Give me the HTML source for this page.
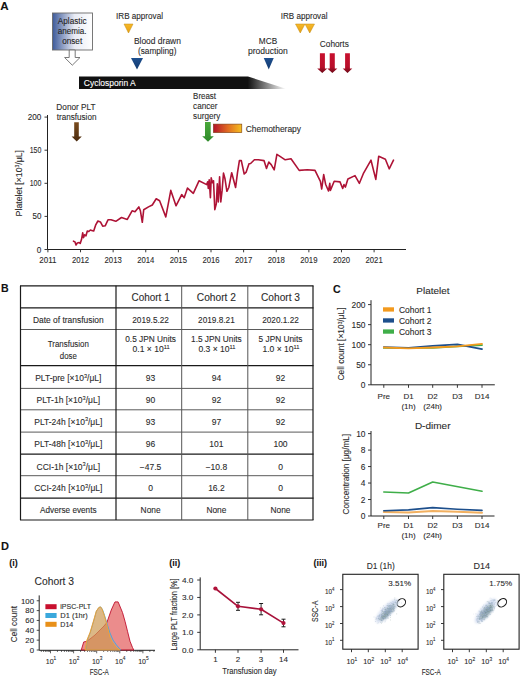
<!DOCTYPE html>
<html><head><meta charset="utf-8"><style>
html,body{margin:0;padding:0;background:#fff;}
svg{display:block;font-family:"Liberation Sans", sans-serif;}
text{stroke:#2b2b2b;stroke-width:0.1px;}
text.w{stroke:#fff;}
</style></head><body>
<svg width="520" height="678" viewBox="0 0 520 678">
<rect width="520" height="678" fill="#fff"/>
<defs>
<filter id="blur1" x="-50%" y="-50%" width="200%" height="200%"><feGaussianBlur stdDeviation="1.2"/></filter>
<linearGradient id="gApl" x1="0" x2="1" y1="0" y2="0">
 <stop offset="0" stop-color="#3d5a9a"/><stop offset="0.55" stop-color="#e8ebf4"/><stop offset="1" stop-color="#ffffff"/></linearGradient>
<linearGradient id="gBar" gradientUnits="userSpaceOnUse" x1="79" x2="286" y1="0" y2="0">
 <stop offset="0" stop-color="#111"/><stop offset="0.815" stop-color="#111"/><stop offset="1" stop-color="#fff"/></linearGradient>
<linearGradient id="gChemo" x1="0" x2="1" y1="0" y2="0">
 <stop offset="0" stop-color="#b3122a"/><stop offset="0.5" stop-color="#e06a22"/><stop offset="1" stop-color="#f5c020"/></linearGradient>
<linearGradient id="gRed" x1="0" x2="0" y1="0" y2="1">
 <stop offset="0" stop-color="#c8102e"/><stop offset="0.7" stop-color="#b80f2a"/><stop offset="1" stop-color="#6a0a18"/></linearGradient>
<linearGradient id="gBrown" x1="0" x2="0" y1="0" y2="1">
 <stop offset="0" stop-color="#7a4c1e"/><stop offset="1" stop-color="#4a2a0e"/></linearGradient>
<linearGradient id="gGreen" x1="0" x2="0" y1="0" y2="1">
 <stop offset="0" stop-color="#4aa83a"/><stop offset="1" stop-color="#2e8a2a"/></linearGradient>
<linearGradient id="gYel" x1="0" x2="0" y1="0" y2="1">
 <stop offset="0" stop-color="#f7b92a"/><stop offset="1" stop-color="#e8a010"/></linearGradient>
<linearGradient id="gBlue" x1="0" x2="0" y1="0" y2="1">
 <stop offset="0" stop-color="#1e4f8e"/><stop offset="1" stop-color="#123a70"/></linearGradient>
</defs>
<text x="0.3" y="9.8" font-size="11.6" text-anchor="start" fill="#111" font-weight="bold">A</text>
<rect x="52.5" y="13" width="40" height="37" fill="url(#gApl)" stroke="#6a6a6a" stroke-width="0.9"/>
<polygon points="69.20,50.00 75.20,50.00 75.20,57.50 80.00,57.50 72.30,65.20 64.60,57.50 69.20,57.50" fill="#fff" stroke="#6a6a6a" stroke-width="0.9"/>
<text x="72.2" y="24.4" font-size="8.3" text-anchor="middle" fill="#222" textLength="28.8" lengthAdjust="spacingAndGlyphs">Aplastic</text>
<text x="72.2" y="34.2" font-size="8.3" text-anchor="middle" fill="#222" textLength="28.8" lengthAdjust="spacingAndGlyphs">anemia.</text>
<text x="72.2" y="44.4" font-size="8.3" text-anchor="middle" fill="#222" textLength="20" lengthAdjust="spacingAndGlyphs">onset</text>
<text x="139.5" y="19" font-size="8.3" text-anchor="middle" fill="#2b2b2b" textLength="47" lengthAdjust="spacingAndGlyphs">IRB approval</text>
<polygon points="124.00,24.00 133.00,24.00 128.50,33.00" fill="url(#gYel)" stroke="#c08a10" stroke-width="0.5"/>
<text x="157.4" y="44.3" font-size="8.3" text-anchor="middle" fill="#2b2b2b" textLength="47" lengthAdjust="spacingAndGlyphs">Blood drawn</text>
<text x="157.2" y="54.1" font-size="8.3" text-anchor="middle" fill="#2b2b2b" textLength="38.5" lengthAdjust="spacingAndGlyphs">(sampling)</text>
<polygon points="131.00,58.00 143.00,58.00 137.00,69.50" fill="url(#gBlue)" stroke="none" stroke-width="0"/>
<polygon points="79.00,76.50 248.00,76.50 286.00,88.70 286.00,89.00 79.00,89.00" fill="url(#gBar)" stroke="none" stroke-width="0"/>
<text x="83.8" y="85.8" font-size="8.4" text-anchor="start" fill="#fff" textLength="51.9" lengthAdjust="spacingAndGlyphs" class="w">Cyclosporin A</text>
<text x="268" y="44.3" font-size="8.3" text-anchor="middle" fill="#2b2b2b" textLength="18.3" lengthAdjust="spacingAndGlyphs">MCB</text>
<text x="267.9" y="54.1" font-size="8.3" text-anchor="middle" fill="#2b2b2b" textLength="40" lengthAdjust="spacingAndGlyphs">production</text>
<polygon points="263.75,58.00 273.75,58.00 268.75,69.50" fill="url(#gBlue)" stroke="none" stroke-width="0"/>
<text x="304.1" y="19" font-size="8.3" text-anchor="middle" fill="#2b2b2b" textLength="46.7" lengthAdjust="spacingAndGlyphs">IRB approval</text>
<polygon points="295.50,24.00 305.00,24.00 300.25,33.00" fill="url(#gYel)" stroke="#c08a10" stroke-width="0.5"/>
<polygon points="305.00,24.00 314.50,24.00 309.75,33.00" fill="url(#gYel)" stroke="#c08a10" stroke-width="0.5"/>
<text x="334.3" y="47.4" font-size="8.6" text-anchor="middle" fill="#2b2b2b" textLength="29" lengthAdjust="spacingAndGlyphs">Cohorts</text>
<polygon points="319.90,53.20 324.90,53.20 324.90,68.60 327.30,68.60 322.25,72.90 317.20,68.60 319.90,68.60" fill="url(#gRed)" stroke="none" stroke-width="0"/>
<polygon points="329.70,53.20 334.80,53.20 334.80,68.60 337.40,68.60 332.35,72.90 327.30,68.60 329.70,68.60" fill="url(#gRed)" stroke="none" stroke-width="0"/>
<polygon points="345.10,53.20 349.90,53.20 349.90,68.60 352.30,68.60 347.50,72.90 342.70,68.60 345.10,68.60" fill="url(#gRed)" stroke="none" stroke-width="0"/>
<text x="76" y="110.2" font-size="8.3" text-anchor="middle" fill="#2b2b2b" textLength="39.3" lengthAdjust="spacingAndGlyphs">Donor PLT</text>
<text x="76.6" y="119.8" font-size="8.3" text-anchor="middle" fill="#2b2b2b" textLength="39.8" lengthAdjust="spacingAndGlyphs">transfusion</text>
<polygon points="74.20,122.30 78.80,122.30 78.80,136.50 81.80,136.50 76.70,141.40 71.60,136.50 74.20,136.50" fill="url(#gBrown)" stroke="none" stroke-width="0"/>
<text x="193.1" y="98.6" font-size="8.3" text-anchor="start" fill="#2b2b2b" textLength="22.9" lengthAdjust="spacingAndGlyphs">Breast</text>
<text x="193.1" y="108.6" font-size="8.3" text-anchor="start" fill="#2b2b2b" textLength="24.5" lengthAdjust="spacingAndGlyphs">cancer</text>
<text x="193.1" y="118.6" font-size="8.3" text-anchor="start" fill="#2b2b2b" textLength="27.1" lengthAdjust="spacingAndGlyphs">surgery</text>
<polygon points="205.00,122.00 210.70,122.00 210.70,136.20 213.80,136.20 208.00,141.70 202.20,136.20 205.00,136.20" fill="url(#gGreen)" stroke="none" stroke-width="0"/>
<rect x="213.4" y="124.1" width="28.4" height="8.5" fill="url(#gChemo)" stroke="#7a3a10" stroke-width="0.6"/>
<text x="245.7" y="131.5" font-size="8.3" text-anchor="start" fill="#2b2b2b" textLength="55.3" lengthAdjust="spacingAndGlyphs">Chemotherapy</text>
<line x1="47.5" y1="115" x2="47.5" y2="249.5" stroke="#222" stroke-width="1"/>
<line x1="47.5" y1="249.5" x2="406" y2="249.5" stroke="#222" stroke-width="1"/>
<line x1="44.5" y1="249.5" x2="47.5" y2="249.5" stroke="#222" stroke-width="0.9"/>
<text x="41.4" y="252.5" font-size="8.2" text-anchor="end" fill="#2b2b2b">0</text>
<line x1="44.5" y1="216.4" x2="47.5" y2="216.4" stroke="#222" stroke-width="0.9"/>
<text x="41.4" y="219.4" font-size="8.2" text-anchor="end" fill="#2b2b2b" textLength="8.9" lengthAdjust="spacingAndGlyphs">50</text>
<line x1="44.5" y1="183.3" x2="47.5" y2="183.3" stroke="#222" stroke-width="0.9"/>
<text x="41.4" y="186.3" font-size="8.2" text-anchor="end" fill="#2b2b2b" textLength="11.7" lengthAdjust="spacingAndGlyphs">100</text>
<line x1="44.5" y1="150.2" x2="47.5" y2="150.2" stroke="#222" stroke-width="0.9"/>
<text x="41.4" y="153.2" font-size="8.2" text-anchor="end" fill="#2b2b2b" textLength="11.7" lengthAdjust="spacingAndGlyphs">150</text>
<line x1="44.5" y1="117.1" x2="47.5" y2="117.1" stroke="#222" stroke-width="0.9"/>
<text x="41.4" y="120.1" font-size="8.2" text-anchor="end" fill="#2b2b2b" textLength="13.6" lengthAdjust="spacingAndGlyphs">200</text>
<line x1="47.9" y1="249.5" x2="47.9" y2="252.3" stroke="#222" stroke-width="0.9"/>
<text x="47.9" y="262.8" font-size="8.2" text-anchor="middle" fill="#2b2b2b" textLength="17.2" lengthAdjust="spacingAndGlyphs">2011</text>
<line x1="80.52" y1="249.5" x2="80.52" y2="252.3" stroke="#222" stroke-width="0.9"/>
<text x="80.52" y="262.8" font-size="8.2" text-anchor="middle" fill="#2b2b2b" textLength="17.2" lengthAdjust="spacingAndGlyphs">2012</text>
<line x1="113.13999999999999" y1="249.5" x2="113.13999999999999" y2="252.3" stroke="#222" stroke-width="0.9"/>
<text x="113.13999999999999" y="262.8" font-size="8.2" text-anchor="middle" fill="#2b2b2b" textLength="17.2" lengthAdjust="spacingAndGlyphs">2013</text>
<line x1="145.76" y1="249.5" x2="145.76" y2="252.3" stroke="#222" stroke-width="0.9"/>
<text x="145.76" y="262.8" font-size="8.2" text-anchor="middle" fill="#2b2b2b" textLength="17.2" lengthAdjust="spacingAndGlyphs">2014</text>
<line x1="178.38" y1="249.5" x2="178.38" y2="252.3" stroke="#222" stroke-width="0.9"/>
<text x="178.38" y="262.8" font-size="8.2" text-anchor="middle" fill="#2b2b2b" textLength="17.2" lengthAdjust="spacingAndGlyphs">2015</text>
<line x1="211.0" y1="249.5" x2="211.0" y2="252.3" stroke="#222" stroke-width="0.9"/>
<text x="211.0" y="262.8" font-size="8.2" text-anchor="middle" fill="#2b2b2b" textLength="17.2" lengthAdjust="spacingAndGlyphs">2016</text>
<line x1="243.61999999999998" y1="249.5" x2="243.61999999999998" y2="252.3" stroke="#222" stroke-width="0.9"/>
<text x="243.61999999999998" y="262.8" font-size="8.2" text-anchor="middle" fill="#2b2b2b" textLength="17.2" lengthAdjust="spacingAndGlyphs">2017</text>
<line x1="276.23999999999995" y1="249.5" x2="276.23999999999995" y2="252.3" stroke="#222" stroke-width="0.9"/>
<text x="276.23999999999995" y="262.8" font-size="8.2" text-anchor="middle" fill="#2b2b2b" textLength="17.2" lengthAdjust="spacingAndGlyphs">2018</text>
<line x1="308.85999999999996" y1="249.5" x2="308.85999999999996" y2="252.3" stroke="#222" stroke-width="0.9"/>
<text x="308.85999999999996" y="262.8" font-size="8.2" text-anchor="middle" fill="#2b2b2b" textLength="17.2" lengthAdjust="spacingAndGlyphs">2019</text>
<line x1="341.47999999999996" y1="249.5" x2="341.47999999999996" y2="252.3" stroke="#222" stroke-width="0.9"/>
<text x="341.47999999999996" y="262.8" font-size="8.2" text-anchor="middle" fill="#2b2b2b" textLength="17.2" lengthAdjust="spacingAndGlyphs">2020</text>
<line x1="374.09999999999997" y1="249.5" x2="374.09999999999997" y2="252.3" stroke="#222" stroke-width="0.9"/>
<text x="374.09999999999997" y="262.8" font-size="8.2" text-anchor="middle" fill="#2b2b2b" textLength="17.2" lengthAdjust="spacingAndGlyphs">2021</text>
<text transform="translate(21.6,183.2) rotate(-90)" font-size="9" text-anchor="middle" fill="#2b2b2b" textLength="66.4" lengthAdjust="spacingAndGlyphs">Platelet [×10<tspan dy="-2.8" font-size="5">3</tspan><tspan dy="2.8">/μL]</tspan></text>
<polyline points="73.50,241.20 75.00,241.90 76.00,245.00 77.30,243.00 79.20,242.50 80.20,243.50 81.50,239.60 82.70,232.90 83.50,237.70 84.60,234.80 86.00,235.80 87.30,231.00 88.80,231.50 90.40,230.00 91.70,230.40 93.70,231.00 95.60,225.20 97.90,221.00 100.40,221.90 102.70,226.20 105.20,225.80 108.00,219.80 111.00,219.80 115.80,221.30 121.50,217.50 127.30,219.40 132.10,210.80 135.00,211.70 138.80,206.90 140.40,210.80 142.30,222.30 143.70,209.80 148.50,206.90 152.30,205.00 156.20,198.80 159.60,200.80 165.80,216.90 170.80,190.40 176.00,205.80 181.70,194.60 184.20,197.70 187.50,188.10 193.30,193.30 199.00,180.80 206.70,184.60 207.70,181.70 208.30,188.50 209.20,179.80 210.40,197.70 211.20,177.90 212.50,182.70 213.50,180.80 214.80,209.60 216.30,203.80 217.30,183.70 218.30,201.90 219.60,176.90 220.80,201.90 222.10,190.40 223.50,173.10 225.00,178.80 226.90,191.30 228.80,187.50 231.70,172.70 235.60,187.50 237.50,172.70 239.40,160.60 241.30,160.60 244.20,174.00 246.20,172.10 249.00,163.80 250.60,163.50 254.40,159.80 258.30,159.80 264.00,160.60 266.50,168.50 268.80,162.10 271.20,164.60 274.20,169.80 276.90,154.40 280.40,156.70 285.20,159.80 291.00,158.70 299.20,170.40 307.30,169.80 315.00,170.40 320.40,181.30 321.70,189.00 323.70,174.60 325.60,184.20 328.50,191.00 329.80,183.30 330.40,190.40 334.20,181.30 340.00,181.90 342.70,188.50 344.00,184.60 345.40,187.10 347.90,179.00 355.00,175.60 359.40,183.30 363.30,173.70 371.00,160.20 375.80,179.40 378.70,156.30 385.40,159.20 389.20,168.80 393.50,160.20" fill="none" stroke="#ae1336" stroke-width="1.6" stroke-linejoin="round" stroke-linecap="round"/>
<text x="0.9" y="292.1" font-size="10.6" text-anchor="start" fill="#111" font-weight="bold">B</text>
<line x1="20.0" y1="285.8" x2="313.5" y2="285.8" stroke="#1a1a1a" stroke-width="1.2"/>
<line x1="20.0" y1="307.8" x2="313.5" y2="307.8" stroke="#1a1a1a" stroke-width="1.2"/>
<line x1="20.5" y1="329.5" x2="313" y2="329.5" stroke="#5a5a5a" stroke-width="1"/>
<line x1="20.0" y1="365.7" x2="313.5" y2="365.7" stroke="#1a1a1a" stroke-width="1.2"/>
<line x1="20.5" y1="388.4" x2="313" y2="388.4" stroke="#5a5a5a" stroke-width="1"/>
<line x1="20.5" y1="409.8" x2="313" y2="409.8" stroke="#5a5a5a" stroke-width="1"/>
<line x1="20.5" y1="432.1" x2="313" y2="432.1" stroke="#5a5a5a" stroke-width="1"/>
<line x1="20.0" y1="454.2" x2="313.5" y2="454.2" stroke="#1a1a1a" stroke-width="1.2"/>
<line x1="20.5" y1="475.7" x2="313" y2="475.7" stroke="#5a5a5a" stroke-width="1"/>
<line x1="20.0" y1="498.2" x2="313.5" y2="498.2" stroke="#1a1a1a" stroke-width="1.2"/>
<line x1="20.0" y1="520" x2="313.5" y2="520" stroke="#1a1a1a" stroke-width="1.2"/>
<line x1="20.5" y1="285.8" x2="20.5" y2="520" stroke="#1a1a1a" stroke-width="1.2"/>
<line x1="116" y1="285.8" x2="116" y2="520" stroke="#1a1a1a" stroke-width="1.2"/>
<line x1="181.7" y1="285.8" x2="181.7" y2="520" stroke="#555" stroke-width="1"/>
<line x1="247.8" y1="285.8" x2="247.8" y2="520" stroke="#555" stroke-width="1"/>
<line x1="313" y1="285.8" x2="313" y2="520" stroke="#1a1a1a" stroke-width="1.2"/>
<text x="150.6" y="301" font-size="10" text-anchor="middle" fill="#2b2b2b" textLength="38.2" lengthAdjust="spacingAndGlyphs">Cohort 1</text>
<text x="216.4" y="301" font-size="10" text-anchor="middle" fill="#2b2b2b" textLength="39.1" lengthAdjust="spacingAndGlyphs">Cohort 2</text>
<text x="280.5" y="301" font-size="10" text-anchor="middle" fill="#2b2b2b" textLength="39" lengthAdjust="spacingAndGlyphs">Cohort 3</text>
<text x="68.3" y="322.8" font-size="8.3" text-anchor="middle" fill="#2b2b2b" textLength="70.6" lengthAdjust="spacingAndGlyphs">Date of transfusion</text>
<text x="150.6" y="323" font-size="8.6" text-anchor="middle" fill="#2b2b2b" textLength="36.7" lengthAdjust="spacingAndGlyphs">2019.5.22</text>
<text x="216.4" y="323" font-size="8.6" text-anchor="middle" fill="#2b2b2b" textLength="36.7" lengthAdjust="spacingAndGlyphs">2019.8.21</text>
<text x="280.5" y="323" font-size="8.6" text-anchor="middle" fill="#2b2b2b" textLength="36.7" lengthAdjust="spacingAndGlyphs">2020.1.22</text>
<text x="68.3" y="347" font-size="8.3" text-anchor="middle" fill="#2b2b2b" textLength="41" lengthAdjust="spacingAndGlyphs">Transfusion</text>
<text x="68.3" y="358.6" font-size="8.3" text-anchor="middle" fill="#2b2b2b" textLength="17" lengthAdjust="spacingAndGlyphs">dose</text>
<text x="150.6" y="342.4" font-size="8.3" text-anchor="middle" fill="#2b2b2b">0.5 JPN Units</text>
<text x="151.1" y="351.9" font-size="8.3" text-anchor="middle" fill="#2b2b2b" textLength="37" lengthAdjust="spacingAndGlyphs">0.1 × 10<tspan dy="-3.3" font-size="5.5">11</tspan></text>
<text x="216.4" y="342.4" font-size="8.3" text-anchor="middle" fill="#2b2b2b">1.5 JPN Units</text>
<text x="216.9" y="351.9" font-size="8.3" text-anchor="middle" fill="#2b2b2b" textLength="37" lengthAdjust="spacingAndGlyphs">0.3 × 10<tspan dy="-3.3" font-size="5.5">11</tspan></text>
<text x="280.5" y="342.4" font-size="8.3" text-anchor="middle" fill="#2b2b2b">5 JPN Units</text>
<text x="281.0" y="351.9" font-size="8.3" text-anchor="middle" fill="#2b2b2b" textLength="37" lengthAdjust="spacingAndGlyphs">1.0 × 10<tspan dy="-3.3" font-size="5.5">11</tspan></text>
<text x="68.3" y="380.7" font-size="8.5" text-anchor="middle" fill="#2b2b2b">PLT-pre [×10<tspan dy="-3.2" font-size="5.6">3</tspan><tspan dy="3.2">/μL]</tspan></text>
<text x="150.6" y="380.7" font-size="8.5" text-anchor="middle" fill="#2b2b2b">93</text>
<text x="216.4" y="380.7" font-size="8.5" text-anchor="middle" fill="#2b2b2b">94</text>
<text x="280.5" y="380.7" font-size="8.5" text-anchor="middle" fill="#2b2b2b">92</text>
<text x="68.3" y="403.3" font-size="8.5" text-anchor="middle" fill="#2b2b2b">PLT-1h [×10<tspan dy="-3.2" font-size="5.6">3</tspan><tspan dy="3.2">/μL]</tspan></text>
<text x="150.6" y="403.3" font-size="8.5" text-anchor="middle" fill="#2b2b2b">90</text>
<text x="216.4" y="403.3" font-size="8.5" text-anchor="middle" fill="#2b2b2b">92</text>
<text x="280.5" y="403.3" font-size="8.5" text-anchor="middle" fill="#2b2b2b">92</text>
<text x="68.3" y="424.6" font-size="8.5" text-anchor="middle" fill="#2b2b2b">PLT-24h [×10<tspan dy="-3.2" font-size="5.6">3</tspan><tspan dy="3.2">/μL]</tspan></text>
<text x="150.6" y="424.6" font-size="8.5" text-anchor="middle" fill="#2b2b2b">93</text>
<text x="216.4" y="424.6" font-size="8.5" text-anchor="middle" fill="#2b2b2b">97</text>
<text x="280.5" y="424.6" font-size="8.5" text-anchor="middle" fill="#2b2b2b">92</text>
<text x="68.3" y="446.9" font-size="8.5" text-anchor="middle" fill="#2b2b2b">PLT-48h [×10<tspan dy="-3.2" font-size="5.6">3</tspan><tspan dy="3.2">/μL]</tspan></text>
<text x="150.6" y="446.9" font-size="8.5" text-anchor="middle" fill="#2b2b2b">96</text>
<text x="216.4" y="446.9" font-size="8.5" text-anchor="middle" fill="#2b2b2b">101</text>
<text x="280.5" y="446.9" font-size="8.5" text-anchor="middle" fill="#2b2b2b">100</text>
<text x="68.3" y="469.5" font-size="8.5" text-anchor="middle" fill="#2b2b2b">CCI-1h [×10<tspan dy="-3.2" font-size="5.6">3</tspan><tspan dy="3.2">/μL]</tspan></text>
<text x="150.6" y="469.5" font-size="8.5" text-anchor="middle" fill="#2b2b2b">−47.5</text>
<text x="216.4" y="469.5" font-size="8.5" text-anchor="middle" fill="#2b2b2b">−10.8</text>
<text x="280.5" y="469.5" font-size="8.5" text-anchor="middle" fill="#2b2b2b">0</text>
<text x="68.3" y="491.1" font-size="8.5" text-anchor="middle" fill="#2b2b2b">CCI-24h [×10<tspan dy="-3.2" font-size="5.6">3</tspan><tspan dy="3.2">/μL]</tspan></text>
<text x="150.6" y="491.1" font-size="8.5" text-anchor="middle" fill="#2b2b2b">0</text>
<text x="216.4" y="491.1" font-size="8.5" text-anchor="middle" fill="#2b2b2b">16.2</text>
<text x="280.5" y="491.1" font-size="8.5" text-anchor="middle" fill="#2b2b2b">0</text>
<text x="68.3" y="513.1" font-size="8.2" text-anchor="middle" fill="#2b2b2b" textLength="56.5" lengthAdjust="spacingAndGlyphs">Adverse events</text>
<text x="150.6" y="513.1" font-size="8.4" text-anchor="middle" fill="#2b2b2b" textLength="20" lengthAdjust="spacingAndGlyphs">None</text>
<text x="216.4" y="513.1" font-size="8.4" text-anchor="middle" fill="#2b2b2b" textLength="20" lengthAdjust="spacingAndGlyphs">None</text>
<text x="280.5" y="513.1" font-size="8.4" text-anchor="middle" fill="#2b2b2b" textLength="20" lengthAdjust="spacingAndGlyphs">None</text>
<text x="333" y="292.7" font-size="10.6" text-anchor="start" fill="#111" font-weight="bold">C</text>
<text x="432.9" y="293.8" font-size="9.4" text-anchor="middle" fill="#2b2b2b" textLength="33.1" lengthAdjust="spacingAndGlyphs">Platelet</text>
<line x1="371" y1="300.2" x2="371" y2="384.8" stroke="#222" stroke-width="1"/>
<line x1="371" y1="384.8" x2="494.8" y2="384.8" stroke="#222" stroke-width="1"/>
<line x1="368" y1="384.8" x2="371" y2="384.8" stroke="#222" stroke-width="0.9"/>
<text x="365.5" y="387.8" font-size="8.4" text-anchor="end" fill="#2b2b2b">0</text>
<line x1="368" y1="364.75" x2="371" y2="364.75" stroke="#222" stroke-width="0.9"/>
<text x="365.5" y="367.75" font-size="8.4" text-anchor="end" fill="#2b2b2b">50</text>
<line x1="368" y1="344.7" x2="371" y2="344.7" stroke="#222" stroke-width="0.9"/>
<text x="365.5" y="347.7" font-size="8.4" text-anchor="end" fill="#2b2b2b">100</text>
<line x1="368" y1="324.65" x2="371" y2="324.65" stroke="#222" stroke-width="0.9"/>
<text x="365.5" y="327.65" font-size="8.4" text-anchor="end" fill="#2b2b2b">150</text>
<line x1="368" y1="304.6" x2="371" y2="304.6" stroke="#222" stroke-width="0.9"/>
<text x="365.5" y="307.6" font-size="8.4" text-anchor="end" fill="#2b2b2b">200</text>
<line x1="383.8" y1="384.8" x2="383.8" y2="387.8" stroke="#222" stroke-width="0.9"/>
<line x1="408.5" y1="384.8" x2="408.5" y2="387.8" stroke="#222" stroke-width="0.9"/>
<line x1="432.7" y1="384.8" x2="432.7" y2="387.8" stroke="#222" stroke-width="0.9"/>
<line x1="457.4" y1="384.8" x2="457.4" y2="387.8" stroke="#222" stroke-width="0.9"/>
<line x1="482" y1="384.8" x2="482" y2="387.8" stroke="#222" stroke-width="0.9"/>
<text x="383.8" y="398.9" font-size="8" text-anchor="middle" fill="#2b2b2b">Pre</text>
<text x="408.5" y="398.9" font-size="8" text-anchor="middle" fill="#2b2b2b">D1</text>
<text x="432.7" y="398.9" font-size="8" text-anchor="middle" fill="#2b2b2b">D2</text>
<text x="457.4" y="398.9" font-size="8" text-anchor="middle" fill="#2b2b2b">D3</text>
<text x="482" y="398.9" font-size="8" text-anchor="middle" fill="#2b2b2b">D14</text>
<text x="408.5" y="409.3" font-size="8" text-anchor="middle" fill="#2b2b2b">(1h)</text>
<text x="432.7" y="409.3" font-size="8" text-anchor="middle" fill="#2b2b2b">(24h)</text>
<text transform="translate(344.4,344) rotate(-90)" font-size="8.6" text-anchor="middle" fill="#2b2b2b" textLength="73" lengthAdjust="spacingAndGlyphs">Cell count [×10<tspan dy="-2.8" font-size="5">3</tspan><tspan dy="2.8">/μL]</tspan></text>
<polyline points="383.80,347.91 408.50,347.91 432.70,347.91 457.40,346.30 482.00,345.10" fill="none" stroke="#3fae49" stroke-width="1.8" stroke-linejoin="round" stroke-linecap="round"/>
<polyline points="383.80,347.11 408.50,347.91 432.70,345.90 457.40,344.30 482.00,349.11" fill="none" stroke="#1d4f8c" stroke-width="1.8" stroke-linejoin="round" stroke-linecap="round"/>
<polyline points="383.80,347.51 408.50,348.31 432.70,347.51 457.40,346.30 482.00,343.90" fill="none" stroke="#f39a1e" stroke-width="1.8" stroke-linejoin="round" stroke-linecap="round"/>
<rect x="383" y="307.3" width="11" height="4.3" fill="#f39a1e"/>
<text x="399" y="312.6" font-size="8.5" text-anchor="start" fill="#2b2b2b" textLength="32.4" lengthAdjust="spacingAndGlyphs">Cohort 1</text>
<rect x="383" y="318.3" width="11" height="4.3" fill="#1d4f8c"/>
<text x="399" y="323.6" font-size="8.5" text-anchor="start" fill="#2b2b2b" textLength="32.4" lengthAdjust="spacingAndGlyphs">Cohort 2</text>
<rect x="383" y="329.4" width="11" height="4.3" fill="#3fae49"/>
<text x="399" y="334.7" font-size="8.5" text-anchor="start" fill="#2b2b2b" textLength="32.4" lengthAdjust="spacingAndGlyphs">Cohort 3</text>
<text x="432.7" y="428.5" font-size="9.6" text-anchor="middle" fill="#2b2b2b" textLength="35.6" lengthAdjust="spacingAndGlyphs">D-dimer</text>
<line x1="371" y1="431" x2="371" y2="516" stroke="#222" stroke-width="1"/>
<line x1="371" y1="516" x2="494.5" y2="516" stroke="#222" stroke-width="1"/>
<line x1="368" y1="516.0" x2="371" y2="516.0" stroke="#222" stroke-width="0.9"/>
<text x="365.5" y="519.0" font-size="8.4" text-anchor="end" fill="#2b2b2b">0</text>
<line x1="368" y1="499.52" x2="371" y2="499.52" stroke="#222" stroke-width="0.9"/>
<text x="365.5" y="502.52" font-size="8.4" text-anchor="end" fill="#2b2b2b">2</text>
<line x1="368" y1="483.04" x2="371" y2="483.04" stroke="#222" stroke-width="0.9"/>
<text x="365.5" y="486.04" font-size="8.4" text-anchor="end" fill="#2b2b2b">4</text>
<line x1="368" y1="466.56" x2="371" y2="466.56" stroke="#222" stroke-width="0.9"/>
<text x="365.5" y="469.56" font-size="8.4" text-anchor="end" fill="#2b2b2b">6</text>
<line x1="368" y1="450.08" x2="371" y2="450.08" stroke="#222" stroke-width="0.9"/>
<text x="365.5" y="453.08" font-size="8.4" text-anchor="end" fill="#2b2b2b">8</text>
<line x1="368" y1="433.6" x2="371" y2="433.6" stroke="#222" stroke-width="0.9"/>
<text x="365.5" y="436.6" font-size="8.4" text-anchor="end" fill="#2b2b2b">10</text>
<line x1="383.8" y1="516" x2="383.8" y2="519" stroke="#222" stroke-width="0.9"/>
<line x1="408.5" y1="516" x2="408.5" y2="519" stroke="#222" stroke-width="0.9"/>
<line x1="432.7" y1="516" x2="432.7" y2="519" stroke="#222" stroke-width="0.9"/>
<line x1="457.4" y1="516" x2="457.4" y2="519" stroke="#222" stroke-width="0.9"/>
<line x1="482" y1="516" x2="482" y2="519" stroke="#222" stroke-width="0.9"/>
<text x="383.8" y="528.2" font-size="8" text-anchor="middle" fill="#2b2b2b">Pre</text>
<text x="408.5" y="528.2" font-size="8" text-anchor="middle" fill="#2b2b2b">D1</text>
<text x="432.7" y="528.2" font-size="8" text-anchor="middle" fill="#2b2b2b">D2</text>
<text x="457.4" y="528.2" font-size="8" text-anchor="middle" fill="#2b2b2b">D3</text>
<text x="482" y="528.2" font-size="8" text-anchor="middle" fill="#2b2b2b">D14</text>
<text x="408.5" y="538.3" font-size="8" text-anchor="middle" fill="#2b2b2b">(1h)</text>
<text x="432.7" y="538.3" font-size="8" text-anchor="middle" fill="#2b2b2b">(24h)</text>
<text transform="translate(349.4,474.2) rotate(-90)" font-size="8.4" text-anchor="middle" fill="#2b2b2b" textLength="80.4" lengthAdjust="spacingAndGlyphs">Concentration [μg/mL]</text>
<polyline points="383.80,492.00 408.50,493.00 432.70,482.00 482.00,491.30" fill="none" stroke="#3fae49" stroke-width="1.6" stroke-linejoin="round" stroke-linecap="round"/>
<polyline points="383.80,512.00 408.50,512.60 432.70,511.10 457.40,511.80 482.00,512.70" fill="none" stroke="#f2b060" stroke-width="2.0" stroke-linejoin="round" stroke-linecap="round"/>
<polyline points="383.80,510.80 408.50,509.90 432.70,507.60 457.40,509.20 482.00,510.40" fill="none" stroke="#1d4f8c" stroke-width="1.6" stroke-linejoin="round" stroke-linecap="round"/>
<text x="0.9" y="549.7" font-size="11" text-anchor="start" fill="#111" font-weight="bold">D</text>
<text x="9.3" y="566" font-size="9" text-anchor="start" fill="#111" font-weight="bold">(i)</text>
<text x="34.6" y="584.7" font-size="10" text-anchor="start" fill="#2b2b2b" textLength="39.4" lengthAdjust="spacingAndGlyphs">Cohort 3</text>
<line x1="39.2" y1="595.4" x2="39.2" y2="650.3" stroke="#222" stroke-width="1"/>
<line x1="39.2" y1="650.3" x2="155" y2="650.3" stroke="#222" stroke-width="1"/>
<line x1="36.7" y1="650.0" x2="39.2" y2="650.0" stroke="#222" stroke-width="0.8"/>
<text x="34" y="652.8" font-size="7.8" text-anchor="end" fill="#2b2b2b">0</text>
<line x1="36.7" y1="640.15" x2="39.2" y2="640.15" stroke="#222" stroke-width="0.8"/>
<text x="34" y="642.9499999999999" font-size="7.8" text-anchor="end" fill="#2b2b2b">20</text>
<line x1="36.7" y1="630.3" x2="39.2" y2="630.3" stroke="#222" stroke-width="0.8"/>
<text x="34" y="633.0999999999999" font-size="7.8" text-anchor="end" fill="#2b2b2b">40</text>
<line x1="36.7" y1="620.45" x2="39.2" y2="620.45" stroke="#222" stroke-width="0.8"/>
<text x="34" y="623.25" font-size="7.8" text-anchor="end" fill="#2b2b2b">60</text>
<line x1="36.7" y1="610.6" x2="39.2" y2="610.6" stroke="#222" stroke-width="0.8"/>
<text x="34" y="613.4" font-size="7.8" text-anchor="end" fill="#2b2b2b">80</text>
<line x1="36.7" y1="600.75" x2="39.2" y2="600.75" stroke="#222" stroke-width="0.8"/>
<text x="34" y="603.55" font-size="7.8" text-anchor="end" fill="#2b2b2b">100</text>
<line x1="41.307585799675934" y1="650.3" x2="41.307585799675934" y2="651.9" stroke="#222" stroke-width="0.7"/>
<line x1="43.546207100162036" y1="650.3" x2="43.546207100162036" y2="651.9" stroke="#222" stroke-width="0.7"/>
<line x1="45.37529388386217" y1="650.3" x2="45.37529388386217" y2="651.9" stroke="#222" stroke-width="0.7"/>
<line x1="46.921764724329336" y1="650.3" x2="46.921764724329336" y2="651.9" stroke="#222" stroke-width="0.7"/>
<line x1="48.2613786995139" y1="650.3" x2="48.2613786995139" y2="651.9" stroke="#222" stroke-width="0.7"/>
<line x1="49.44300196804841" y1="650.3" x2="49.44300196804841" y2="651.9" stroke="#222" stroke-width="0.7"/>
<line x1="50.5" y1="650.3" x2="50.5" y2="653.3" stroke="#222" stroke-width="0.7"/>
<line x1="57.453792899837964" y1="650.3" x2="57.453792899837964" y2="651.9" stroke="#222" stroke-width="0.7"/>
<line x1="61.5215009840242" y1="650.3" x2="61.5215009840242" y2="651.9" stroke="#222" stroke-width="0.7"/>
<line x1="64.40758579967593" y1="650.3" x2="64.40758579967593" y2="651.9" stroke="#222" stroke-width="0.7"/>
<line x1="66.64620710016203" y1="650.3" x2="66.64620710016203" y2="651.9" stroke="#222" stroke-width="0.7"/>
<line x1="68.47529388386218" y1="650.3" x2="68.47529388386218" y2="651.9" stroke="#222" stroke-width="0.7"/>
<line x1="70.02176472432933" y1="650.3" x2="70.02176472432933" y2="651.9" stroke="#222" stroke-width="0.7"/>
<line x1="71.36137869951389" y1="650.3" x2="71.36137869951389" y2="651.9" stroke="#222" stroke-width="0.7"/>
<line x1="72.5430019680484" y1="650.3" x2="72.5430019680484" y2="651.9" stroke="#222" stroke-width="0.7"/>
<line x1="73.6" y1="650.3" x2="73.6" y2="653.3" stroke="#222" stroke-width="0.7"/>
<line x1="80.55379289983796" y1="650.3" x2="80.55379289983796" y2="651.9" stroke="#222" stroke-width="0.7"/>
<line x1="84.62150098402421" y1="650.3" x2="84.62150098402421" y2="651.9" stroke="#222" stroke-width="0.7"/>
<line x1="87.50758579967594" y1="650.3" x2="87.50758579967594" y2="651.9" stroke="#222" stroke-width="0.7"/>
<line x1="89.74620710016204" y1="650.3" x2="89.74620710016204" y2="651.9" stroke="#222" stroke-width="0.7"/>
<line x1="91.57529388386217" y1="650.3" x2="91.57529388386217" y2="651.9" stroke="#222" stroke-width="0.7"/>
<line x1="93.12176472432932" y1="650.3" x2="93.12176472432932" y2="651.9" stroke="#222" stroke-width="0.7"/>
<line x1="94.46137869951392" y1="650.3" x2="94.46137869951392" y2="651.9" stroke="#222" stroke-width="0.7"/>
<line x1="95.6430019680484" y1="650.3" x2="95.6430019680484" y2="651.9" stroke="#222" stroke-width="0.7"/>
<line x1="96.70000000000002" y1="650.3" x2="96.70000000000002" y2="653.3" stroke="#222" stroke-width="0.7"/>
<line x1="103.65379289983798" y1="650.3" x2="103.65379289983798" y2="651.9" stroke="#222" stroke-width="0.7"/>
<line x1="107.7215009840242" y1="650.3" x2="107.7215009840242" y2="651.9" stroke="#222" stroke-width="0.7"/>
<line x1="110.60758579967595" y1="650.3" x2="110.60758579967595" y2="651.9" stroke="#222" stroke-width="0.7"/>
<line x1="112.84620710016205" y1="650.3" x2="112.84620710016205" y2="651.9" stroke="#222" stroke-width="0.7"/>
<line x1="114.67529388386217" y1="650.3" x2="114.67529388386217" y2="651.9" stroke="#222" stroke-width="0.7"/>
<line x1="116.22176472432935" y1="650.3" x2="116.22176472432935" y2="651.9" stroke="#222" stroke-width="0.7"/>
<line x1="117.56137869951391" y1="650.3" x2="117.56137869951391" y2="651.9" stroke="#222" stroke-width="0.7"/>
<line x1="118.74300196804842" y1="650.3" x2="118.74300196804842" y2="651.9" stroke="#222" stroke-width="0.7"/>
<line x1="119.80000000000001" y1="650.3" x2="119.80000000000001" y2="653.3" stroke="#222" stroke-width="0.7"/>
<line x1="126.75379289983798" y1="650.3" x2="126.75379289983798" y2="651.9" stroke="#222" stroke-width="0.7"/>
<line x1="130.8215009840242" y1="650.3" x2="130.8215009840242" y2="651.9" stroke="#222" stroke-width="0.7"/>
<line x1="133.70758579967594" y1="650.3" x2="133.70758579967594" y2="651.9" stroke="#222" stroke-width="0.7"/>
<line x1="135.94620710016204" y1="650.3" x2="135.94620710016204" y2="651.9" stroke="#222" stroke-width="0.7"/>
<line x1="137.7752938838622" y1="650.3" x2="137.7752938838622" y2="651.9" stroke="#222" stroke-width="0.7"/>
<line x1="139.32176472432934" y1="650.3" x2="139.32176472432934" y2="651.9" stroke="#222" stroke-width="0.7"/>
<line x1="140.6613786995139" y1="650.3" x2="140.6613786995139" y2="651.9" stroke="#222" stroke-width="0.7"/>
<line x1="141.8430019680484" y1="650.3" x2="141.8430019680484" y2="651.9" stroke="#222" stroke-width="0.7"/>
<line x1="142.9" y1="650.3" x2="142.9" y2="653.3" stroke="#222" stroke-width="0.7"/>
<line x1="149.85379289983797" y1="650.3" x2="149.85379289983797" y2="651.9" stroke="#222" stroke-width="0.7"/>
<line x1="153.92150098402422" y1="650.3" x2="153.92150098402422" y2="651.9" stroke="#222" stroke-width="0.7"/>
<text x="51.0" y="663.8" font-size="7.6" text-anchor="middle" fill="#2b2b2b" textLength="10.5" lengthAdjust="spacingAndGlyphs">10<tspan dy="-3.4" font-size="5.2">1</tspan></text>
<text x="74.1" y="663.8" font-size="7.6" text-anchor="middle" fill="#2b2b2b" textLength="10.5" lengthAdjust="spacingAndGlyphs">10<tspan dy="-3.4" font-size="5.2">2</tspan></text>
<text x="97.20000000000002" y="663.8" font-size="7.6" text-anchor="middle" fill="#2b2b2b" textLength="10.5" lengthAdjust="spacingAndGlyphs">10<tspan dy="-3.4" font-size="5.2">3</tspan></text>
<text x="120.30000000000001" y="663.8" font-size="7.6" text-anchor="middle" fill="#2b2b2b" textLength="10.5" lengthAdjust="spacingAndGlyphs">10<tspan dy="-3.4" font-size="5.2">4</tspan></text>
<text x="143.4" y="663.8" font-size="7.6" text-anchor="middle" fill="#2b2b2b" textLength="10.5" lengthAdjust="spacingAndGlyphs">10<tspan dy="-3.4" font-size="5.2">5</tspan></text>
<text x="99.3" y="674.6" font-size="9.2" text-anchor="middle" fill="#2b2b2b" textLength="19.2" lengthAdjust="spacingAndGlyphs">FSC-A</text>
<text transform="translate(16.9,624.1) rotate(-90)" font-size="8.4" text-anchor="middle" fill="#2b2b2b" textLength="36.3" lengthAdjust="spacingAndGlyphs">Cell count</text>
<polygon points="81.25,650.00 83.75,641.90 86.25,641.50 90.00,639.00 95.00,635.00 100.00,630.00 104.00,626.00 106.90,622.50 111.25,610.00 114.40,603.10 115.00,601.90 118.10,601.90 119.40,605.00 122.50,612.50 125.00,621.25 127.50,631.25 130.00,641.25 132.50,647.50 133.75,650.00" fill="rgba(222,70,70,0.62)" stroke="#c0102e" stroke-width="0.9"/>
<polygon points="86.00,650.00 87.50,640.00 90.50,632.00 94.00,620.00 96.50,611.00 99.00,607.50 100.60,606.90 102.50,609.50 104.50,615.30 107.50,625.00 110.00,633.00 113.00,640.00 116.50,645.00 120.70,650.00" fill="rgba(80,170,220,0.25)" stroke="#4aa8d8" stroke-width="0.9"/>
<polygon points="85.00,650.00 86.90,640.00 90.00,632.50 93.75,620.00 96.25,611.25 98.75,607.50 100.60,606.90 101.90,608.75 103.75,613.75 105.60,620.00 107.50,627.50 108.75,632.50 110.00,637.50 112.50,642.50 116.25,647.50 120.00,650.00" fill="rgba(226,150,60,0.6)" stroke="#f0a030" stroke-width="0.9"/>
<rect x="45.4" y="604.2" width="11.2" height="5" fill="#c8102e"/>
<text x="60.3" y="609.2" font-size="7" text-anchor="start" fill="#2b2b2b" textLength="30.7" lengthAdjust="spacingAndGlyphs">iPSC-PLT</text>
<rect x="45.4" y="613" width="11.2" height="5" fill="#3aa8dc"/>
<text x="60.3" y="618" font-size="7" text-anchor="start" fill="#2b2b2b" textLength="27.4" lengthAdjust="spacingAndGlyphs">D1 (1hr)</text>
<rect x="45.4" y="621.8" width="11.2" height="5" fill="#e8901a"/>
<text x="60.3" y="626.8" font-size="7" text-anchor="start" fill="#2b2b2b" textLength="13" lengthAdjust="spacingAndGlyphs">D14</text>
<text x="169.3" y="566" font-size="9" text-anchor="start" fill="#111" font-weight="bold">(ii)</text>
<line x1="200.2" y1="577.4" x2="200.2" y2="649.8" stroke="#222" stroke-width="1"/>
<line x1="200.2" y1="649.8" x2="298.5" y2="649.8" stroke="#222" stroke-width="1"/>
<line x1="197.2" y1="649.8" x2="200.2" y2="649.8" stroke="#222" stroke-width="0.9"/>
<text x="193.4" y="652.6999999999999" font-size="8" text-anchor="end" fill="#2b2b2b" textLength="11.4" lengthAdjust="spacingAndGlyphs">0.0</text>
<line x1="197.2" y1="632.3499999999999" x2="200.2" y2="632.3499999999999" stroke="#222" stroke-width="0.9"/>
<text x="193.4" y="635.2499999999999" font-size="8" text-anchor="end" fill="#2b2b2b" textLength="11.4" lengthAdjust="spacingAndGlyphs">1.0</text>
<line x1="197.2" y1="614.9" x2="200.2" y2="614.9" stroke="#222" stroke-width="0.9"/>
<text x="193.4" y="617.8" font-size="8" text-anchor="end" fill="#2b2b2b" textLength="11.4" lengthAdjust="spacingAndGlyphs">2.0</text>
<line x1="197.2" y1="597.4499999999999" x2="200.2" y2="597.4499999999999" stroke="#222" stroke-width="0.9"/>
<text x="193.4" y="600.3499999999999" font-size="8" text-anchor="end" fill="#2b2b2b" textLength="11.4" lengthAdjust="spacingAndGlyphs">3.0</text>
<line x1="197.2" y1="580.0" x2="200.2" y2="580.0" stroke="#222" stroke-width="0.9"/>
<text x="193.4" y="582.9" font-size="8" text-anchor="end" fill="#2b2b2b" textLength="11.4" lengthAdjust="spacingAndGlyphs">4.0</text>
<line x1="215.4" y1="649.8" x2="215.4" y2="652.8" stroke="#222" stroke-width="0.9"/>
<text x="215.4" y="662" font-size="8" text-anchor="middle" fill="#2b2b2b">1</text>
<line x1="238" y1="649.8" x2="238" y2="652.8" stroke="#222" stroke-width="0.9"/>
<text x="238" y="662" font-size="8" text-anchor="middle" fill="#2b2b2b">2</text>
<line x1="261.1" y1="649.8" x2="261.1" y2="652.8" stroke="#222" stroke-width="0.9"/>
<text x="261.1" y="662" font-size="8" text-anchor="middle" fill="#2b2b2b">3</text>
<line x1="283.5" y1="649.8" x2="283.5" y2="652.8" stroke="#222" stroke-width="0.9"/>
<text x="283.5" y="662" font-size="8" text-anchor="middle" fill="#2b2b2b">14</text>
<text x="249.4" y="674" font-size="9.4" text-anchor="middle" fill="#2b2b2b" textLength="54.3" lengthAdjust="spacingAndGlyphs">Transfusion day</text>
<text transform="translate(176.8,614.5) rotate(-90)" font-size="9.6" text-anchor="middle" fill="#2b2b2b" textLength="72" lengthAdjust="spacingAndGlyphs">Large PLT fraction [%]</text>
<line x1="238" y1="602.3" x2="238" y2="610.3" stroke="#1a1a1a" stroke-width="0.9"/>
<line x1="236" y1="602.3" x2="240" y2="602.3" stroke="#1a1a1a" stroke-width="1"/>
<line x1="236" y1="610.3" x2="240" y2="610.3" stroke="#1a1a1a" stroke-width="1"/>
<line x1="261.1" y1="603.5" x2="261.1" y2="614.8" stroke="#1a1a1a" stroke-width="0.9"/>
<line x1="259.1" y1="603.5" x2="263.1" y2="603.5" stroke="#1a1a1a" stroke-width="1"/>
<line x1="259.1" y1="614.8" x2="263.1" y2="614.8" stroke="#1a1a1a" stroke-width="1"/>
<line x1="283.5" y1="619.2" x2="283.5" y2="626.8" stroke="#1a1a1a" stroke-width="0.9"/>
<line x1="281.5" y1="619.2" x2="285.5" y2="619.2" stroke="#1a1a1a" stroke-width="1"/>
<line x1="281.5" y1="626.8" x2="285.5" y2="626.8" stroke="#1a1a1a" stroke-width="1"/>
<polyline points="215.40,588.50 238.00,606.30 261.10,609.30 283.50,623.10" fill="none" stroke="#a8123a" stroke-width="1.6" stroke-linejoin="round" stroke-linecap="round"/>
<circle cx="215.4" cy="588.5" r="2.1" fill="#b0123a"/>
<circle cx="238" cy="606.3" r="2.1" fill="#b0123a"/>
<circle cx="261.1" cy="609.3" r="2.1" fill="#b0123a"/>
<circle cx="283.5" cy="623.1" r="2.1" fill="#b0123a"/>
<text x="313.6" y="566.3" font-size="9" text-anchor="start" fill="#111" font-weight="bold">(iii)</text>
<text x="380.7" y="568.7" font-size="8.4" text-anchor="middle" fill="#2b2b2b" textLength="28" lengthAdjust="spacingAndGlyphs">D1 (1h)</text>
<text x="481.8" y="568.7" font-size="8.4" text-anchor="middle" fill="#2b2b2b" textLength="16.5" lengthAdjust="spacingAndGlyphs">D14</text>
<rect x="342.8" y="574.3" width="75.3" height="74.9" fill="#fff" stroke="#222" stroke-width="1.1"/>
<line x1="340.0" y1="589.6" x2="342.8" y2="589.6" stroke="#222" stroke-width="0.9"/>
<text x="329.6" y="594.0" font-size="7.4" text-anchor="middle" fill="#2b2b2b" textLength="9.4" lengthAdjust="spacingAndGlyphs">10<tspan dy="-3.4" font-size="5">4</tspan></text>
<line x1="340.0" y1="606.6" x2="342.8" y2="606.6" stroke="#222" stroke-width="0.9"/>
<text x="329.6" y="611.0" font-size="7.4" text-anchor="middle" fill="#2b2b2b" textLength="9.4" lengthAdjust="spacingAndGlyphs">10<tspan dy="-3.4" font-size="5">3</tspan></text>
<line x1="340.0" y1="623.5" x2="342.8" y2="623.5" stroke="#222" stroke-width="0.9"/>
<text x="329.6" y="627.9" font-size="7.4" text-anchor="middle" fill="#2b2b2b" textLength="9.4" lengthAdjust="spacingAndGlyphs">10<tspan dy="-3.4" font-size="5">2</tspan></text>
<line x1="340.0" y1="640.3" x2="342.8" y2="640.3" stroke="#222" stroke-width="0.9"/>
<text x="329.6" y="644.6999999999999" font-size="7.4" text-anchor="middle" fill="#2b2b2b" textLength="9.4" lengthAdjust="spacingAndGlyphs">10<tspan dy="-3.4" font-size="5">1</tspan></text>
<line x1="351.5" y1="649.2" x2="351.5" y2="652.2" stroke="#222" stroke-width="0.9"/>
<text x="351.9" y="664.2" font-size="7.8" text-anchor="middle" fill="#2b2b2b" textLength="10.7" lengthAdjust="spacingAndGlyphs">10<tspan dy="-3.4" font-size="5.2">1</tspan></text>
<line x1="368.3" y1="649.2" x2="368.3" y2="652.2" stroke="#222" stroke-width="0.9"/>
<text x="368.7" y="664.2" font-size="7.8" text-anchor="middle" fill="#2b2b2b" textLength="10.7" lengthAdjust="spacingAndGlyphs">10<tspan dy="-3.4" font-size="5.2">2</tspan></text>
<line x1="385.3" y1="649.2" x2="385.3" y2="652.2" stroke="#222" stroke-width="0.9"/>
<text x="385.7" y="664.2" font-size="7.8" text-anchor="middle" fill="#2b2b2b" textLength="10.7" lengthAdjust="spacingAndGlyphs">10<tspan dy="-3.4" font-size="5.2">3</tspan></text>
<line x1="402.2" y1="649.2" x2="402.2" y2="652.2" stroke="#222" stroke-width="0.9"/>
<text x="402.59999999999997" y="664.2" font-size="7.8" text-anchor="middle" fill="#2b2b2b" textLength="10.7" lengthAdjust="spacingAndGlyphs">10<tspan dy="-3.4" font-size="5.2">4</tspan></text>
<text x="399.7" y="585.7" font-size="8.1" text-anchor="middle" fill="#2b2b2b" textLength="22.8" lengthAdjust="spacingAndGlyphs">3.51%</text>
<ellipse cx="401.3" cy="602.8" rx="4.6" ry="3.7" fill="none" stroke="#1a1a1a" stroke-width="1.1" transform="rotate(-40 401.3 602.8)"/>
<ellipse cx="387" cy="611" rx="15.5" ry="5.2" fill="#c9d6ec" fill-opacity="0.75" filter="url(#blur1)" transform="rotate(-46 387 611)"/>
<ellipse cx="387.3" cy="612.8" rx="10.5" ry="2.3" fill="#7f9994" fill-opacity="0.8" filter="url(#blur1)" transform="rotate(-46 387.3 612.8)"/>
<rect x="382.1" y="617.4" width="0.8" height="0.8" fill="#6a8680" fill-opacity="0.4"/><rect x="382.2" y="616.9" width="0.8" height="0.8" fill="#b8c8e2" fill-opacity="0.4"/><rect x="391.1" y="610.6" width="0.8" height="0.8" fill="#b8c8e2" fill-opacity="0.4"/><rect x="386.8" y="609.7" width="0.8" height="0.8" fill="#8da2c4" fill-opacity="0.4"/><rect x="395.6" y="605.5" width="0.8" height="0.8" fill="#b8c8e2" fill-opacity="0.4"/><rect x="392.9" y="603.8" width="0.8" height="0.8" fill="#b8c8e2" fill-opacity="0.4"/><rect x="387.7" y="610.8" width="0.8" height="0.8" fill="#b8c8e2" fill-opacity="0.4"/><rect x="390.1" y="608.6" width="0.8" height="0.8" fill="#8da2c4" fill-opacity="0.4"/><rect x="392.3" y="606.2" width="0.8" height="0.8" fill="#8da2c4" fill-opacity="0.4"/><rect x="388.3" y="606.2" width="0.8" height="0.8" fill="#b8c8e2" fill-opacity="0.4"/><rect x="380.3" y="617.9" width="0.8" height="0.8" fill="#8da2c4" fill-opacity="0.4"/><rect x="390.1" y="619.6" width="0.8" height="0.8" fill="#6a8680" fill-opacity="0.4"/><rect x="388.5" y="604.9" width="0.8" height="0.8" fill="#8da2c4" fill-opacity="0.4"/><rect x="388.9" y="611.9" width="0.8" height="0.8" fill="#8da2c4" fill-opacity="0.4"/><rect x="385.7" y="608.8" width="0.8" height="0.8" fill="#6a8680" fill-opacity="0.4"/><rect x="381.2" y="622.7" width="0.8" height="0.8" fill="#6a8680" fill-opacity="0.4"/><rect x="390.1" y="607.8" width="0.8" height="0.8" fill="#6a8680" fill-opacity="0.4"/><rect x="386.0" y="612.8" width="0.8" height="0.8" fill="#b8c8e2" fill-opacity="0.4"/><rect x="386.3" y="609.0" width="0.8" height="0.8" fill="#8da2c4" fill-opacity="0.4"/><rect x="385.1" y="620.7" width="0.8" height="0.8" fill="#b8c8e2" fill-opacity="0.4"/><rect x="390.4" y="609.3" width="0.8" height="0.8" fill="#8da2c4" fill-opacity="0.4"/><rect x="395.6" y="604.3" width="0.8" height="0.8" fill="#8da2c4" fill-opacity="0.4"/><rect x="381.7" y="615.1" width="0.8" height="0.8" fill="#8da2c4" fill-opacity="0.4"/><rect x="385.8" y="610.4" width="0.8" height="0.8" fill="#b8c8e2" fill-opacity="0.4"/><rect x="391.7" y="608.5" width="0.8" height="0.8" fill="#8da2c4" fill-opacity="0.4"/><rect x="390.1" y="616.9" width="0.8" height="0.8" fill="#6a8680" fill-opacity="0.4"/><rect x="387.3" y="617.5" width="0.8" height="0.8" fill="#8da2c4" fill-opacity="0.4"/><rect x="382.1" y="620.2" width="0.8" height="0.8" fill="#b8c8e2" fill-opacity="0.4"/><rect x="401.1" y="602.6" width="0.8" height="0.8" fill="#8da2c4" fill-opacity="0.4"/><rect x="389.6" y="614.3" width="0.8" height="0.8" fill="#8da2c4" fill-opacity="0.4"/><rect x="387.1" y="612.1" width="0.8" height="0.8" fill="#8da2c4" fill-opacity="0.4"/><rect x="383.4" y="613.4" width="0.8" height="0.8" fill="#b8c8e2" fill-opacity="0.4"/><rect x="384.9" y="615.9" width="0.8" height="0.8" fill="#6a8680" fill-opacity="0.4"/><rect x="381.4" y="617.3" width="0.8" height="0.8" fill="#6a8680" fill-opacity="0.4"/><rect x="389.0" y="610.8" width="0.8" height="0.8" fill="#6a8680" fill-opacity="0.4"/><rect x="387.2" y="608.4" width="0.8" height="0.8" fill="#8da2c4" fill-opacity="0.4"/><rect x="382.2" y="607.8" width="0.8" height="0.8" fill="#8da2c4" fill-opacity="0.4"/><rect x="394.8" y="600.7" width="0.8" height="0.8" fill="#b8c8e2" fill-opacity="0.4"/><rect x="385.5" y="613.3" width="0.8" height="0.8" fill="#8da2c4" fill-opacity="0.4"/><rect x="389.9" y="607.4" width="0.8" height="0.8" fill="#b8c8e2" fill-opacity="0.4"/><rect x="389.8" y="614.5" width="0.8" height="0.8" fill="#b8c8e2" fill-opacity="0.4"/><rect x="387.3" y="612.8" width="0.8" height="0.8" fill="#b8c8e2" fill-opacity="0.4"/><rect x="390.5" y="608.4" width="0.8" height="0.8" fill="#b8c8e2" fill-opacity="0.4"/><rect x="388.8" y="605.3" width="0.8" height="0.8" fill="#8da2c4" fill-opacity="0.4"/><rect x="389.1" y="607.7" width="0.8" height="0.8" fill="#8da2c4" fill-opacity="0.4"/><rect x="388.3" y="613.4" width="0.8" height="0.8" fill="#8da2c4" fill-opacity="0.4"/><rect x="390.4" y="610.4" width="0.8" height="0.8" fill="#b8c8e2" fill-opacity="0.4"/><rect x="391.1" y="609.2" width="0.8" height="0.8" fill="#6a8680" fill-opacity="0.4"/><rect x="393.2" y="603.9" width="0.8" height="0.8" fill="#b8c8e2" fill-opacity="0.4"/><rect x="384.4" y="612.8" width="0.8" height="0.8" fill="#8da2c4" fill-opacity="0.4"/><rect x="397.3" y="601.2" width="0.8" height="0.8" fill="#b8c8e2" fill-opacity="0.4"/><rect x="387.8" y="610.0" width="0.8" height="0.8" fill="#b8c8e2" fill-opacity="0.4"/><rect x="380.0" y="618.8" width="0.8" height="0.8" fill="#8da2c4" fill-opacity="0.4"/><rect x="388.8" y="609.1" width="0.8" height="0.8" fill="#b8c8e2" fill-opacity="0.4"/><rect x="382.5" y="608.3" width="0.8" height="0.8" fill="#b8c8e2" fill-opacity="0.4"/><rect x="381.8" y="610.5" width="0.8" height="0.8" fill="#6a8680" fill-opacity="0.4"/><rect x="385.0" y="617.3" width="0.8" height="0.8" fill="#6a8680" fill-opacity="0.4"/><rect x="388.9" y="606.4" width="0.8" height="0.8" fill="#b8c8e2" fill-opacity="0.4"/><rect x="389.1" y="605.4" width="0.8" height="0.8" fill="#b8c8e2" fill-opacity="0.4"/><rect x="384.1" y="617.1" width="0.8" height="0.8" fill="#b8c8e2" fill-opacity="0.4"/><rect x="393.8" y="606.3" width="0.8" height="0.8" fill="#6a8680" fill-opacity="0.4"/><rect x="390.4" y="603.7" width="0.8" height="0.8" fill="#8da2c4" fill-opacity="0.4"/><rect x="384.2" y="609.4" width="0.8" height="0.8" fill="#8da2c4" fill-opacity="0.4"/><rect x="387.4" y="609.4" width="0.8" height="0.8" fill="#b8c8e2" fill-opacity="0.4"/><rect x="393.5" y="605.2" width="0.8" height="0.8" fill="#8da2c4" fill-opacity="0.4"/><rect x="390.5" y="612.7" width="0.8" height="0.8" fill="#8da2c4" fill-opacity="0.4"/><rect x="376.8" y="616.4" width="0.8" height="0.8" fill="#8da2c4" fill-opacity="0.4"/><rect x="390.9" y="607.2" width="0.8" height="0.8" fill="#b8c8e2" fill-opacity="0.4"/><rect x="388.8" y="611.1" width="0.8" height="0.8" fill="#6a8680" fill-opacity="0.4"/><rect x="382.8" y="612.2" width="0.8" height="0.8" fill="#6a8680" fill-opacity="0.4"/><rect x="386.2" y="616.4" width="0.8" height="0.8" fill="#8da2c4" fill-opacity="0.4"/><rect x="380.9" y="620.0" width="0.8" height="0.8" fill="#6a8680" fill-opacity="0.4"/><rect x="389.1" y="606.5" width="0.8" height="0.8" fill="#b8c8e2" fill-opacity="0.4"/><rect x="386.9" y="612.9" width="0.8" height="0.8" fill="#8da2c4" fill-opacity="0.4"/><rect x="388.7" y="603.5" width="0.8" height="0.8" fill="#b8c8e2" fill-opacity="0.4"/><rect x="390.0" y="607.0" width="0.8" height="0.8" fill="#8da2c4" fill-opacity="0.4"/><rect x="384.0" y="615.0" width="0.8" height="0.8" fill="#8da2c4" fill-opacity="0.4"/><rect x="382.8" y="617.8" width="0.8" height="0.8" fill="#8da2c4" fill-opacity="0.4"/><rect x="386.6" y="617.5" width="0.8" height="0.8" fill="#6a8680" fill-opacity="0.4"/><rect x="385.5" y="613.0" width="0.8" height="0.8" fill="#8da2c4" fill-opacity="0.4"/><rect x="387.6" y="609.7" width="0.8" height="0.8" fill="#b8c8e2" fill-opacity="0.4"/><rect x="382.9" y="614.0" width="0.8" height="0.8" fill="#b8c8e2" fill-opacity="0.4"/><rect x="389.5" y="608.6" width="0.8" height="0.8" fill="#8da2c4" fill-opacity="0.4"/><rect x="395.9" y="602.8" width="0.8" height="0.8" fill="#8da2c4" fill-opacity="0.4"/><rect x="388.3" y="610.5" width="0.8" height="0.8" fill="#b8c8e2" fill-opacity="0.4"/><rect x="381.8" y="618.0" width="0.8" height="0.8" fill="#b8c8e2" fill-opacity="0.4"/><rect x="386.9" y="602.9" width="0.8" height="0.8" fill="#b8c8e2" fill-opacity="0.4"/><rect x="390.5" y="611.1" width="0.8" height="0.8" fill="#8da2c4" fill-opacity="0.4"/><rect x="392.2" y="605.9" width="0.8" height="0.8" fill="#b8c8e2" fill-opacity="0.4"/><rect x="389.8" y="610.6" width="0.8" height="0.8" fill="#8da2c4" fill-opacity="0.4"/><rect x="383.2" y="610.9" width="0.8" height="0.8" fill="#b8c8e2" fill-opacity="0.4"/><rect x="385.5" y="609.2" width="0.8" height="0.8" fill="#b8c8e2" fill-opacity="0.4"/><rect x="388.2" y="608.9" width="0.8" height="0.8" fill="#6a8680" fill-opacity="0.4"/><rect x="385.7" y="610.6" width="0.8" height="0.8" fill="#8da2c4" fill-opacity="0.4"/><rect x="377.3" y="615.6" width="0.8" height="0.8" fill="#8da2c4" fill-opacity="0.4"/><rect x="377.1" y="618.3" width="0.8" height="0.8" fill="#b8c8e2" fill-opacity="0.4"/><rect x="391.1" y="605.5" width="0.8" height="0.8" fill="#b8c8e2" fill-opacity="0.4"/><rect x="391.7" y="611.5" width="0.8" height="0.8" fill="#6a8680" fill-opacity="0.4"/><rect x="380.3" y="613.6" width="0.8" height="0.8" fill="#8da2c4" fill-opacity="0.4"/><rect x="394.4" y="597.6" width="0.8" height="0.8" fill="#6a8680" fill-opacity="0.4"/><rect x="378.5" y="618.4" width="0.8" height="0.8" fill="#8da2c4" fill-opacity="0.4"/><rect x="392.7" y="601.5" width="0.8" height="0.8" fill="#8da2c4" fill-opacity="0.4"/><rect x="392.2" y="607.5" width="0.8" height="0.8" fill="#b8c8e2" fill-opacity="0.4"/><rect x="385.6" y="608.5" width="0.8" height="0.8" fill="#8da2c4" fill-opacity="0.4"/><rect x="387.0" y="609.8" width="0.8" height="0.8" fill="#b8c8e2" fill-opacity="0.4"/><rect x="390.3" y="610.4" width="0.8" height="0.8" fill="#b8c8e2" fill-opacity="0.4"/><rect x="389.4" y="610.0" width="0.8" height="0.8" fill="#b8c8e2" fill-opacity="0.4"/><rect x="382.3" y="609.3" width="0.8" height="0.8" fill="#b8c8e2" fill-opacity="0.4"/><rect x="391.3" y="605.2" width="0.8" height="0.8" fill="#6a8680" fill-opacity="0.4"/><rect x="390.4" y="608.8" width="0.8" height="0.8" fill="#b8c8e2" fill-opacity="0.4"/><rect x="387.9" y="615.5" width="0.8" height="0.8" fill="#b8c8e2" fill-opacity="0.4"/><rect x="377.9" y="619.5" width="0.8" height="0.8" fill="#b8c8e2" fill-opacity="0.4"/><rect x="386.9" y="614.2" width="0.8" height="0.8" fill="#6a8680" fill-opacity="0.4"/><rect x="388.8" y="607.7" width="0.8" height="0.8" fill="#6a8680" fill-opacity="0.4"/><rect x="392.0" y="605.0" width="0.8" height="0.8" fill="#b8c8e2" fill-opacity="0.4"/><rect x="390.7" y="611.2" width="0.8" height="0.8" fill="#b8c8e2" fill-opacity="0.4"/><rect x="385.9" y="611.6" width="0.8" height="0.8" fill="#6a8680" fill-opacity="0.4"/><rect x="382.3" y="615.5" width="0.8" height="0.8" fill="#6a8680" fill-opacity="0.4"/><rect x="381.4" y="615.3" width="0.8" height="0.8" fill="#b8c8e2" fill-opacity="0.4"/><rect x="393.0" y="606.5" width="0.8" height="0.8" fill="#8da2c4" fill-opacity="0.4"/><rect x="395.8" y="599.8" width="0.8" height="0.8" fill="#8da2c4" fill-opacity="0.4"/><rect x="384.8" y="613.5" width="0.8" height="0.8" fill="#8da2c4" fill-opacity="0.4"/><rect x="387.5" y="603.7" width="0.8" height="0.8" fill="#8da2c4" fill-opacity="0.4"/><rect x="386.8" y="613.2" width="0.8" height="0.8" fill="#b8c8e2" fill-opacity="0.4"/><rect x="388.7" y="608.4" width="0.8" height="0.8" fill="#b8c8e2" fill-opacity="0.4"/><rect x="390.1" y="608.1" width="0.8" height="0.8" fill="#8da2c4" fill-opacity="0.4"/><rect x="384.1" y="611.2" width="0.8" height="0.8" fill="#8da2c4" fill-opacity="0.4"/><rect x="384.9" y="612.1" width="0.8" height="0.8" fill="#b8c8e2" fill-opacity="0.4"/><rect x="392.3" y="608.4" width="0.8" height="0.8" fill="#8da2c4" fill-opacity="0.4"/><rect x="390.8" y="611.1" width="0.8" height="0.8" fill="#8da2c4" fill-opacity="0.4"/><rect x="384.9" y="615.6" width="0.8" height="0.8" fill="#b8c8e2" fill-opacity="0.4"/><rect x="389.6" y="610.3" width="0.8" height="0.8" fill="#b8c8e2" fill-opacity="0.4"/><rect x="381.8" y="613.1" width="0.8" height="0.8" fill="#6a8680" fill-opacity="0.4"/><rect x="378.0" y="615.9" width="0.8" height="0.8" fill="#8da2c4" fill-opacity="0.4"/><rect x="383.4" y="608.5" width="0.8" height="0.8" fill="#6a8680" fill-opacity="0.4"/><rect x="386.8" y="614.0" width="0.8" height="0.8" fill="#6a8680" fill-opacity="0.4"/><rect x="396.3" y="613.5" width="0.8" height="0.8" fill="#6a8680" fill-opacity="0.4"/><rect x="390.2" y="609.6" width="0.8" height="0.8" fill="#b8c8e2" fill-opacity="0.4"/><rect x="387.7" y="611.9" width="0.8" height="0.8" fill="#6a8680" fill-opacity="0.4"/><rect x="381.4" y="619.7" width="0.8" height="0.8" fill="#8da2c4" fill-opacity="0.4"/><rect x="382.9" y="618.3" width="0.8" height="0.8" fill="#8da2c4" fill-opacity="0.4"/><rect x="391.6" y="611.3" width="0.8" height="0.8" fill="#6a8680" fill-opacity="0.4"/><rect x="389.0" y="608.6" width="0.8" height="0.8" fill="#b8c8e2" fill-opacity="0.4"/><rect x="385.2" y="608.7" width="0.8" height="0.8" fill="#b8c8e2" fill-opacity="0.4"/><rect x="388.3" y="610.9" width="0.8" height="0.8" fill="#8da2c4" fill-opacity="0.4"/><rect x="393.1" y="605.7" width="0.8" height="0.8" fill="#b8c8e2" fill-opacity="0.4"/><rect x="384.3" y="613.0" width="0.8" height="0.8" fill="#8da2c4" fill-opacity="0.4"/><rect x="392.6" y="611.5" width="0.8" height="0.8" fill="#6a8680" fill-opacity="0.4"/><rect x="388.5" y="608.8" width="0.8" height="0.8" fill="#8da2c4" fill-opacity="0.4"/><rect x="391.2" y="605.5" width="0.8" height="0.8" fill="#b8c8e2" fill-opacity="0.4"/><rect x="386.4" y="615.1" width="0.8" height="0.8" fill="#b8c8e2" fill-opacity="0.4"/><rect x="382.5" y="617.7" width="0.8" height="0.8" fill="#8da2c4" fill-opacity="0.4"/><rect x="381.2" y="610.7" width="0.8" height="0.8" fill="#8da2c4" fill-opacity="0.4"/><rect x="380.7" y="619.1" width="0.8" height="0.8" fill="#8da2c4" fill-opacity="0.4"/><rect x="388.9" y="611.0" width="0.8" height="0.8" fill="#b8c8e2" fill-opacity="0.4"/><rect x="396.9" y="601.5" width="0.8" height="0.8" fill="#6a8680" fill-opacity="0.4"/><rect x="381.2" y="610.4" width="0.8" height="0.8" fill="#b8c8e2" fill-opacity="0.4"/><rect x="383.3" y="617.5" width="0.8" height="0.8" fill="#b8c8e2" fill-opacity="0.4"/><rect x="394.8" y="602.3" width="0.8" height="0.8" fill="#8da2c4" fill-opacity="0.4"/><rect x="391.8" y="603.0" width="0.8" height="0.8" fill="#b8c8e2" fill-opacity="0.4"/><rect x="387.2" y="607.6" width="0.8" height="0.8" fill="#6a8680" fill-opacity="0.4"/><rect x="390.2" y="604.0" width="0.8" height="0.8" fill="#b8c8e2" fill-opacity="0.4"/><rect x="385.7" y="608.9" width="0.8" height="0.8" fill="#b8c8e2" fill-opacity="0.4"/><rect x="391.4" y="607.8" width="0.8" height="0.8" fill="#8da2c4" fill-opacity="0.4"/><rect x="391.3" y="606.7" width="0.8" height="0.8" fill="#b8c8e2" fill-opacity="0.4"/><rect x="383.8" y="612.6" width="0.8" height="0.8" fill="#6a8680" fill-opacity="0.4"/><rect x="383.6" y="611.8" width="0.8" height="0.8" fill="#b8c8e2" fill-opacity="0.4"/><rect x="381.0" y="615.4" width="0.8" height="0.8" fill="#8da2c4" fill-opacity="0.4"/><rect x="393.5" y="604.3" width="0.8" height="0.8" fill="#b8c8e2" fill-opacity="0.4"/><rect x="383.1" y="605.4" width="0.8" height="0.8" fill="#8da2c4" fill-opacity="0.4"/><rect x="379.6" y="614.9" width="0.8" height="0.8" fill="#8da2c4" fill-opacity="0.4"/><rect x="386.1" y="612.5" width="0.8" height="0.8" fill="#8da2c4" fill-opacity="0.4"/><rect x="386.1" y="613.0" width="0.8" height="0.8" fill="#8da2c4" fill-opacity="0.4"/><rect x="390.5" y="604.9" width="0.8" height="0.8" fill="#b8c8e2" fill-opacity="0.4"/><rect x="392.3" y="604.6" width="0.8" height="0.8" fill="#6a8680" fill-opacity="0.4"/><rect x="379.3" y="614.2" width="0.8" height="0.8" fill="#8da2c4" fill-opacity="0.4"/><rect x="379.1" y="615.8" width="0.8" height="0.8" fill="#8da2c4" fill-opacity="0.4"/><rect x="389.0" y="608.1" width="0.8" height="0.8" fill="#8da2c4" fill-opacity="0.4"/><rect x="391.3" y="610.0" width="0.8" height="0.8" fill="#b8c8e2" fill-opacity="0.4"/><rect x="398.7" y="601.9" width="0.8" height="0.8" fill="#8da2c4" fill-opacity="0.4"/><rect x="380.6" y="616.8" width="0.8" height="0.8" fill="#8da2c4" fill-opacity="0.4"/><rect x="388.0" y="614.9" width="0.8" height="0.8" fill="#b8c8e2" fill-opacity="0.4"/><rect x="388.2" y="615.1" width="0.8" height="0.8" fill="#8da2c4" fill-opacity="0.4"/><rect x="390.5" y="607.6" width="0.8" height="0.8" fill="#8da2c4" fill-opacity="0.4"/><rect x="393.6" y="609.0" width="0.8" height="0.8" fill="#8da2c4" fill-opacity="0.4"/><rect x="391.3" y="603.1" width="0.8" height="0.8" fill="#8da2c4" fill-opacity="0.4"/><rect x="397.5" y="599.5" width="0.8" height="0.8" fill="#8da2c4" fill-opacity="0.4"/><rect x="389.9" y="605.9" width="0.8" height="0.8" fill="#8da2c4" fill-opacity="0.4"/><rect x="390.1" y="607.3" width="0.8" height="0.8" fill="#b8c8e2" fill-opacity="0.4"/><rect x="392.6" y="603.1" width="0.8" height="0.8" fill="#8da2c4" fill-opacity="0.4"/><rect x="394.8" y="602.1" width="0.8" height="0.8" fill="#b8c8e2" fill-opacity="0.4"/><rect x="393.3" y="607.6" width="0.8" height="0.8" fill="#8da2c4" fill-opacity="0.4"/><rect x="388.0" y="611.1" width="0.8" height="0.8" fill="#b8c8e2" fill-opacity="0.4"/><rect x="391.8" y="608.7" width="0.8" height="0.8" fill="#b8c8e2" fill-opacity="0.4"/><rect x="384.0" y="614.9" width="0.8" height="0.8" fill="#b8c8e2" fill-opacity="0.4"/><rect x="381.6" y="619.5" width="0.8" height="0.8" fill="#b8c8e2" fill-opacity="0.4"/><rect x="385.4" y="610.1" width="0.8" height="0.8" fill="#8da2c4" fill-opacity="0.4"/><rect x="391.3" y="602.8" width="0.8" height="0.8" fill="#b8c8e2" fill-opacity="0.4"/><rect x="385.8" y="614.4" width="0.8" height="0.8" fill="#b8c8e2" fill-opacity="0.4"/><rect x="380.5" y="615.9" width="0.8" height="0.8" fill="#b8c8e2" fill-opacity="0.4"/><rect x="385.9" y="609.9" width="0.8" height="0.8" fill="#8da2c4" fill-opacity="0.4"/><rect x="396.5" y="600.2" width="0.8" height="0.8" fill="#6a8680" fill-opacity="0.4"/><rect x="388.7" y="609.5" width="0.8" height="0.8" fill="#8da2c4" fill-opacity="0.4"/><rect x="382.5" y="617.9" width="0.8" height="0.8" fill="#8da2c4" fill-opacity="0.4"/><rect x="385.1" y="612.6" width="0.8" height="0.8" fill="#8da2c4" fill-opacity="0.4"/><rect x="382.5" y="611.8" width="0.8" height="0.8" fill="#b8c8e2" fill-opacity="0.4"/><rect x="384.8" y="616.1" width="0.8" height="0.8" fill="#8da2c4" fill-opacity="0.4"/><rect x="385.2" y="617.6" width="0.8" height="0.8" fill="#6a8680" fill-opacity="0.4"/><rect x="389.4" y="609.3" width="0.8" height="0.8" fill="#6a8680" fill-opacity="0.4"/><rect x="379.4" y="614.7" width="0.8" height="0.8" fill="#8da2c4" fill-opacity="0.4"/><rect x="384.5" y="614.8" width="0.8" height="0.8" fill="#6a8680" fill-opacity="0.4"/><rect x="384.4" y="617.4" width="0.8" height="0.8" fill="#6a8680" fill-opacity="0.4"/><rect x="386.3" y="615.6" width="0.8" height="0.8" fill="#b8c8e2" fill-opacity="0.4"/><rect x="390.3" y="605.8" width="0.8" height="0.8" fill="#8da2c4" fill-opacity="0.4"/><rect x="396.6" y="605.1" width="0.8" height="0.8" fill="#8da2c4" fill-opacity="0.4"/><rect x="393.2" y="606.8" width="0.8" height="0.8" fill="#8da2c4" fill-opacity="0.4"/><rect x="384.2" y="611.3" width="0.8" height="0.8" fill="#b8c8e2" fill-opacity="0.4"/><rect x="390.3" y="608.7" width="0.8" height="0.8" fill="#b8c8e2" fill-opacity="0.4"/><rect x="391.1" y="608.2" width="0.8" height="0.8" fill="#b8c8e2" fill-opacity="0.4"/><rect x="384.4" y="611.0" width="0.8" height="0.8" fill="#8da2c4" fill-opacity="0.4"/><rect x="384.6" y="617.8" width="0.8" height="0.8" fill="#8da2c4" fill-opacity="0.4"/><rect x="394.1" y="607.3" width="0.8" height="0.8" fill="#b8c8e2" fill-opacity="0.4"/><rect x="394.3" y="599.4" width="0.8" height="0.8" fill="#6a8680" fill-opacity="0.4"/><rect x="380.7" y="619.9" width="0.8" height="0.8" fill="#8da2c4" fill-opacity="0.4"/><rect x="386.7" y="614.5" width="0.8" height="0.8" fill="#6a8680" fill-opacity="0.4"/><rect x="388.9" y="607.4" width="0.8" height="0.8" fill="#8da2c4" fill-opacity="0.4"/><rect x="385.4" y="615.1" width="0.8" height="0.8" fill="#8da2c4" fill-opacity="0.4"/><rect x="385.5" y="614.1" width="0.8" height="0.8" fill="#b8c8e2" fill-opacity="0.4"/><rect x="386.6" y="607.3" width="0.8" height="0.8" fill="#6a8680" fill-opacity="0.4"/><rect x="384.0" y="613.3" width="0.8" height="0.8" fill="#b8c8e2" fill-opacity="0.4"/><rect x="388.7" y="607.3" width="0.8" height="0.8" fill="#8da2c4" fill-opacity="0.4"/><rect x="381.2" y="616.6" width="0.8" height="0.8" fill="#b8c8e2" fill-opacity="0.4"/><rect x="392.9" y="603.9" width="0.8" height="0.8" fill="#6a8680" fill-opacity="0.4"/><rect x="393.1" y="606.4" width="0.8" height="0.8" fill="#b8c8e2" fill-opacity="0.4"/><rect x="389.0" y="609.7" width="0.8" height="0.8" fill="#b8c8e2" fill-opacity="0.4"/><rect x="388.1" y="609.0" width="0.8" height="0.8" fill="#b8c8e2" fill-opacity="0.4"/><rect x="393.9" y="608.4" width="0.8" height="0.8" fill="#b8c8e2" fill-opacity="0.4"/><rect x="388.3" y="612.1" width="0.8" height="0.8" fill="#b8c8e2" fill-opacity="0.4"/><rect x="379.0" y="618.5" width="0.8" height="0.8" fill="#8da2c4" fill-opacity="0.4"/><rect x="384.6" y="621.2" width="0.8" height="0.8" fill="#b8c8e2" fill-opacity="0.4"/><rect x="381.5" y="616.9" width="0.8" height="0.8" fill="#b8c8e2" fill-opacity="0.4"/><rect x="380.7" y="610.1" width="0.8" height="0.8" fill="#8da2c4" fill-opacity="0.4"/><rect x="387.8" y="605.6" width="0.8" height="0.8" fill="#6a8680" fill-opacity="0.4"/><rect x="386.9" y="605.0" width="0.8" height="0.8" fill="#6a8680" fill-opacity="0.4"/><rect x="392.6" y="603.9" width="0.8" height="0.8" fill="#b8c8e2" fill-opacity="0.4"/><rect x="382.0" y="610.2" width="0.8" height="0.8" fill="#8da2c4" fill-opacity="0.4"/><rect x="385.2" y="613.8" width="0.8" height="0.8" fill="#b8c8e2" fill-opacity="0.4"/><rect x="391.3" y="606.4" width="0.8" height="0.8" fill="#8da2c4" fill-opacity="0.4"/><rect x="390.1" y="611.3" width="0.8" height="0.8" fill="#8da2c4" fill-opacity="0.4"/><rect x="388.4" y="609.3" width="0.8" height="0.8" fill="#8da2c4" fill-opacity="0.4"/><rect x="393.5" y="607.5" width="0.8" height="0.8" fill="#b8c8e2" fill-opacity="0.4"/><rect x="388.3" y="610.8" width="0.8" height="0.8" fill="#8da2c4" fill-opacity="0.4"/><rect x="376.5" y="618.0" width="0.8" height="0.8" fill="#8da2c4" fill-opacity="0.4"/><rect x="389.9" y="609.4" width="0.8" height="0.8" fill="#8da2c4" fill-opacity="0.4"/><rect x="390.4" y="613.0" width="0.8" height="0.8" fill="#b8c8e2" fill-opacity="0.4"/><rect x="388.6" y="611.6" width="0.8" height="0.8" fill="#8da2c4" fill-opacity="0.4"/><rect x="393.1" y="609.8" width="0.8" height="0.8" fill="#8da2c4" fill-opacity="0.4"/><rect x="378.1" y="618.3" width="0.8" height="0.8" fill="#8da2c4" fill-opacity="0.4"/><rect x="390.0" y="615.1" width="0.8" height="0.8" fill="#6a8680" fill-opacity="0.4"/><rect x="385.7" y="616.0" width="0.8" height="0.8" fill="#6a8680" fill-opacity="0.4"/><rect x="384.0" y="614.4" width="0.8" height="0.8" fill="#8da2c4" fill-opacity="0.4"/><rect x="393.7" y="602.1" width="0.8" height="0.8" fill="#8da2c4" fill-opacity="0.4"/><rect x="381.3" y="616.2" width="0.8" height="0.8" fill="#8da2c4" fill-opacity="0.4"/><rect x="393.4" y="604.0" width="0.8" height="0.8" fill="#8da2c4" fill-opacity="0.4"/><rect x="392.2" y="605.9" width="0.8" height="0.8" fill="#8da2c4" fill-opacity="0.4"/><rect x="386.5" y="606.3" width="0.8" height="0.8" fill="#b8c8e2" fill-opacity="0.4"/><rect x="389.3" y="610.3" width="0.8" height="0.8" fill="#8da2c4" fill-opacity="0.4"/><rect x="389.9" y="614.9" width="0.8" height="0.8" fill="#b8c8e2" fill-opacity="0.4"/><rect x="373.6" y="616.6" width="0.8" height="0.8" fill="#8da2c4" fill-opacity="0.4"/><rect x="384.3" y="613.4" width="0.8" height="0.8" fill="#b8c8e2" fill-opacity="0.4"/><rect x="395.4" y="602.3" width="0.8" height="0.8" fill="#6a8680" fill-opacity="0.4"/><rect x="387.2" y="609.5" width="0.8" height="0.8" fill="#8da2c4" fill-opacity="0.4"/><rect x="385.8" y="610.7" width="0.8" height="0.8" fill="#8da2c4" fill-opacity="0.4"/><rect x="376.8" y="623.3" width="0.8" height="0.8" fill="#b8c8e2" fill-opacity="0.4"/><rect x="388.3" y="607.4" width="0.8" height="0.8" fill="#b8c8e2" fill-opacity="0.4"/><rect x="380.2" y="621.9" width="0.8" height="0.8" fill="#8da2c4" fill-opacity="0.4"/><rect x="387.4" y="608.5" width="0.8" height="0.8" fill="#b8c8e2" fill-opacity="0.4"/><rect x="384.2" y="613.5" width="0.8" height="0.8" fill="#6a8680" fill-opacity="0.4"/><rect x="386.9" y="613.9" width="0.8" height="0.8" fill="#8da2c4" fill-opacity="0.4"/><rect x="387.1" y="614.6" width="0.8" height="0.8" fill="#b8c8e2" fill-opacity="0.4"/><rect x="384.7" y="617.5" width="0.8" height="0.8" fill="#8da2c4" fill-opacity="0.4"/><rect x="384.2" y="616.2" width="0.8" height="0.8" fill="#6a8680" fill-opacity="0.4"/><rect x="388.0" y="605.6" width="0.8" height="0.8" fill="#8da2c4" fill-opacity="0.4"/><rect x="383.8" y="618.1" width="0.8" height="0.8" fill="#8da2c4" fill-opacity="0.4"/><rect x="381.7" y="615.0" width="0.8" height="0.8" fill="#8da2c4" fill-opacity="0.4"/><rect x="394.9" y="602.5" width="0.8" height="0.8" fill="#8da2c4" fill-opacity="0.4"/><rect x="383.3" y="613.0" width="0.8" height="0.8" fill="#8da2c4" fill-opacity="0.4"/><rect x="383.0" y="614.5" width="0.8" height="0.8" fill="#8da2c4" fill-opacity="0.4"/><rect x="383.4" y="617.9" width="0.8" height="0.8" fill="#8da2c4" fill-opacity="0.4"/><rect x="391.9" y="611.2" width="0.8" height="0.8" fill="#8da2c4" fill-opacity="0.4"/><rect x="391.7" y="604.6" width="0.8" height="0.8" fill="#b8c8e2" fill-opacity="0.4"/><rect x="385.7" y="618.0" width="0.8" height="0.8" fill="#8da2c4" fill-opacity="0.4"/><rect x="388.9" y="610.3" width="0.8" height="0.8" fill="#b8c8e2" fill-opacity="0.4"/><rect x="385.2" y="610.7" width="0.8" height="0.8" fill="#8da2c4" fill-opacity="0.4"/><rect x="388.2" y="605.8" width="0.8" height="0.8" fill="#8da2c4" fill-opacity="0.4"/><rect x="388.4" y="611.6" width="0.8" height="0.8" fill="#8da2c4" fill-opacity="0.4"/><rect x="385.9" y="612.9" width="0.8" height="0.8" fill="#6a8680" fill-opacity="0.4"/><rect x="383.1" y="616.9" width="0.8" height="0.8" fill="#b8c8e2" fill-opacity="0.4"/><rect x="384.7" y="607.0" width="0.8" height="0.8" fill="#8da2c4" fill-opacity="0.4"/><rect x="386.3" y="614.9" width="0.8" height="0.8" fill="#8da2c4" fill-opacity="0.4"/><rect x="382.9" y="618.4" width="0.8" height="0.8" fill="#6a8680" fill-opacity="0.4"/><rect x="386.2" y="606.9" width="0.8" height="0.8" fill="#b8c8e2" fill-opacity="0.4"/><rect x="391.2" y="607.0" width="0.8" height="0.8" fill="#8da2c4" fill-opacity="0.4"/><rect x="385.1" y="611.7" width="0.8" height="0.8" fill="#8da2c4" fill-opacity="0.4"/><rect x="378.9" y="619.1" width="0.8" height="0.8" fill="#6a8680" fill-opacity="0.4"/><rect x="384.3" y="612.5" width="0.8" height="0.8" fill="#b8c8e2" fill-opacity="0.4"/><rect x="390.4" y="605.0" width="0.8" height="0.8" fill="#8da2c4" fill-opacity="0.4"/><rect x="384.5" y="613.6" width="0.8" height="0.8" fill="#b8c8e2" fill-opacity="0.4"/><rect x="392.2" y="605.2" width="0.8" height="0.8" fill="#b8c8e2" fill-opacity="0.4"/><rect x="387.5" y="608.5" width="0.8" height="0.8" fill="#6a8680" fill-opacity="0.4"/><rect x="384.1" y="612.4" width="0.8" height="0.8" fill="#8da2c4" fill-opacity="0.4"/><rect x="389.5" y="613.0" width="0.8" height="0.8" fill="#b8c8e2" fill-opacity="0.4"/><rect x="385.5" y="619.5" width="0.8" height="0.8" fill="#8da2c4" fill-opacity="0.4"/><rect x="384.9" y="613.5" width="0.8" height="0.8" fill="#6a8680" fill-opacity="0.4"/><rect x="396.3" y="607.1" width="0.8" height="0.8" fill="#b8c8e2" fill-opacity="0.4"/><rect x="380.8" y="615.8" width="0.8" height="0.8" fill="#8da2c4" fill-opacity="0.4"/><rect x="387.4" y="606.3" width="0.8" height="0.8" fill="#8da2c4" fill-opacity="0.4"/><rect x="387.4" y="608.0" width="0.8" height="0.8" fill="#6a8680" fill-opacity="0.4"/><rect x="389.6" y="612.8" width="0.8" height="0.8" fill="#6a8680" fill-opacity="0.4"/><rect x="391.2" y="610.6" width="0.8" height="0.8" fill="#8da2c4" fill-opacity="0.4"/><rect x="390.0" y="608.3" width="0.8" height="0.8" fill="#6a8680" fill-opacity="0.4"/><rect x="392.2" y="603.7" width="0.8" height="0.8" fill="#8da2c4" fill-opacity="0.4"/><rect x="381.0" y="612.2" width="0.8" height="0.8" fill="#8da2c4" fill-opacity="0.4"/><rect x="378.5" y="616.4" width="0.8" height="0.8" fill="#8da2c4" fill-opacity="0.4"/><rect x="390.4" y="611.1" width="0.8" height="0.8" fill="#8da2c4" fill-opacity="0.4"/><rect x="384.0" y="617.0" width="0.8" height="0.8" fill="#8da2c4" fill-opacity="0.4"/><rect x="383.3" y="614.5" width="0.8" height="0.8" fill="#b8c8e2" fill-opacity="0.4"/><rect x="386.0" y="616.4" width="0.8" height="0.8" fill="#8da2c4" fill-opacity="0.4"/><rect x="384.9" y="611.4" width="0.8" height="0.8" fill="#6a8680" fill-opacity="0.4"/><rect x="381.7" y="614.2" width="0.8" height="0.8" fill="#8da2c4" fill-opacity="0.4"/><rect x="380.2" y="614.3" width="0.8" height="0.8" fill="#b8c8e2" fill-opacity="0.4"/><rect x="385.1" y="609.0" width="0.8" height="0.8" fill="#6a8680" fill-opacity="0.4"/><rect x="388.8" y="603.4" width="0.8" height="0.8" fill="#8da2c4" fill-opacity="0.4"/><rect x="382.6" y="617.4" width="0.8" height="0.8" fill="#6a8680" fill-opacity="0.4"/><rect x="381.2" y="616.3" width="0.8" height="0.8" fill="#8da2c4" fill-opacity="0.4"/><rect x="389.4" y="606.8" width="0.8" height="0.8" fill="#8da2c4" fill-opacity="0.4"/><rect x="381.9" y="609.0" width="0.8" height="0.8" fill="#b8c8e2" fill-opacity="0.4"/><rect x="379.2" y="615.8" width="0.8" height="0.8" fill="#8da2c4" fill-opacity="0.4"/><rect x="385.2" y="612.1" width="0.8" height="0.8" fill="#8da2c4" fill-opacity="0.4"/><rect x="382.6" y="616.9" width="0.8" height="0.8" fill="#8da2c4" fill-opacity="0.4"/><rect x="394.4" y="605.0" width="0.8" height="0.8" fill="#b8c8e2" fill-opacity="0.4"/><rect x="388.7" y="612.2" width="0.8" height="0.8" fill="#8da2c4" fill-opacity="0.4"/><rect x="387.8" y="611.5" width="0.8" height="0.8" fill="#6a8680" fill-opacity="0.4"/><rect x="393.0" y="603.7" width="0.8" height="0.8" fill="#6a8680" fill-opacity="0.4"/><rect x="381.3" y="619.9" width="0.8" height="0.8" fill="#8da2c4" fill-opacity="0.4"/><rect x="384.6" y="609.0" width="0.8" height="0.8" fill="#6a8680" fill-opacity="0.4"/><rect x="395.3" y="606.0" width="0.8" height="0.8" fill="#8da2c4" fill-opacity="0.4"/><rect x="375.2" y="621.2" width="0.8" height="0.8" fill="#8da2c4" fill-opacity="0.4"/><rect x="388.6" y="612.3" width="0.8" height="0.8" fill="#8da2c4" fill-opacity="0.4"/><rect x="397.3" y="603.2" width="0.8" height="0.8" fill="#6a8680" fill-opacity="0.4"/><rect x="384.6" y="615.4" width="0.8" height="0.8" fill="#b8c8e2" fill-opacity="0.4"/><rect x="388.2" y="610.0" width="0.8" height="0.8" fill="#6a8680" fill-opacity="0.4"/><rect x="387.0" y="614.8" width="0.8" height="0.8" fill="#6a8680" fill-opacity="0.4"/><rect x="391.8" y="605.5" width="0.8" height="0.8" fill="#8da2c4" fill-opacity="0.4"/><rect x="387.9" y="617.6" width="0.8" height="0.8" fill="#6a8680" fill-opacity="0.4"/><rect x="393.0" y="611.0" width="0.8" height="0.8" fill="#8da2c4" fill-opacity="0.4"/><rect x="384.5" y="614.0" width="0.8" height="0.8" fill="#6a8680" fill-opacity="0.4"/><rect x="390.0" y="607.8" width="0.8" height="0.8" fill="#b8c8e2" fill-opacity="0.4"/><rect x="393.7" y="610.7" width="0.8" height="0.8" fill="#8da2c4" fill-opacity="0.4"/><rect x="394.4" y="606.7" width="0.8" height="0.8" fill="#8da2c4" fill-opacity="0.4"/><rect x="392.3" y="601.4" width="0.8" height="0.8" fill="#b8c8e2" fill-opacity="0.4"/><rect x="393.6" y="608.2" width="0.8" height="0.8" fill="#6a8680" fill-opacity="0.4"/><rect x="385.5" y="613.0" width="0.8" height="0.8" fill="#8da2c4" fill-opacity="0.4"/><rect x="387.0" y="616.0" width="0.8" height="0.8" fill="#8da2c4" fill-opacity="0.4"/><rect x="389.5" y="610.7" width="0.8" height="0.8" fill="#b8c8e2" fill-opacity="0.4"/><rect x="386.5" y="608.3" width="0.8" height="0.8" fill="#b8c8e2" fill-opacity="0.4"/><rect x="390.0" y="604.9" width="0.8" height="0.8" fill="#8da2c4" fill-opacity="0.4"/><rect x="387.5" y="618.0" width="0.8" height="0.8" fill="#b8c8e2" fill-opacity="0.4"/><rect x="388.3" y="614.5" width="0.8" height="0.8" fill="#8da2c4" fill-opacity="0.4"/><rect x="391.6" y="605.8" width="0.8" height="0.8" fill="#b8c8e2" fill-opacity="0.4"/><rect x="385.5" y="612.3" width="0.8" height="0.8" fill="#b8c8e2" fill-opacity="0.4"/><rect x="387.5" y="613.0" width="0.8" height="0.8" fill="#6a8680" fill-opacity="0.4"/><rect x="390.9" y="608.4" width="0.8" height="0.8" fill="#b8c8e2" fill-opacity="0.4"/><rect x="388.5" y="612.3" width="0.8" height="0.8" fill="#b8c8e2" fill-opacity="0.4"/><rect x="394.1" y="610.4" width="0.8" height="0.8" fill="#6a8680" fill-opacity="0.4"/><rect x="392.3" y="606.3" width="0.8" height="0.8" fill="#b8c8e2" fill-opacity="0.4"/><rect x="381.9" y="621.6" width="0.8" height="0.8" fill="#8da2c4" fill-opacity="0.4"/><rect x="391.4" y="610.4" width="0.8" height="0.8" fill="#b8c8e2" fill-opacity="0.4"/><rect x="384.7" y="617.2" width="0.8" height="0.8" fill="#b8c8e2" fill-opacity="0.4"/><rect x="381.5" y="616.3" width="0.8" height="0.8" fill="#6a8680" fill-opacity="0.4"/><rect x="382.9" y="611.4" width="0.8" height="0.8" fill="#6a8680" fill-opacity="0.4"/><rect x="393.3" y="609.8" width="0.8" height="0.8" fill="#8da2c4" fill-opacity="0.4"/><rect x="383.6" y="612.9" width="0.8" height="0.8" fill="#8da2c4" fill-opacity="0.4"/><rect x="385.1" y="606.9" width="0.8" height="0.8" fill="#b8c8e2" fill-opacity="0.4"/><rect x="389.5" y="612.4" width="0.8" height="0.8" fill="#8da2c4" fill-opacity="0.4"/><rect x="381.4" y="614.9" width="0.8" height="0.8" fill="#8da2c4" fill-opacity="0.4"/><rect x="379.6" y="615.6" width="0.8" height="0.8" fill="#b8c8e2" fill-opacity="0.4"/><rect x="388.2" y="608.2" width="0.8" height="0.8" fill="#8da2c4" fill-opacity="0.4"/><rect x="392.5" y="605.8" width="0.8" height="0.8" fill="#8da2c4" fill-opacity="0.4"/><rect x="384.2" y="614.9" width="0.8" height="0.8" fill="#b8c8e2" fill-opacity="0.4"/><rect x="397.5" y="603.4" width="0.8" height="0.8" fill="#b8c8e2" fill-opacity="0.4"/><rect x="378.5" y="618.2" width="0.8" height="0.8" fill="#8da2c4" fill-opacity="0.4"/><rect x="390.5" y="609.7" width="0.8" height="0.8" fill="#8da2c4" fill-opacity="0.4"/><rect x="386.7" y="615.7" width="0.8" height="0.8" fill="#b8c8e2" fill-opacity="0.4"/><rect x="388.7" y="613.8" width="0.8" height="0.8" fill="#8da2c4" fill-opacity="0.4"/><rect x="387.2" y="608.8" width="0.8" height="0.8" fill="#8da2c4" fill-opacity="0.4"/><rect x="392.9" y="609.3" width="0.8" height="0.8" fill="#6a8680" fill-opacity="0.4"/><rect x="386.8" y="610.0" width="0.8" height="0.8" fill="#8da2c4" fill-opacity="0.4"/><rect x="385.8" y="614.0" width="0.8" height="0.8" fill="#6a8680" fill-opacity="0.4"/><rect x="392.6" y="606.3" width="0.8" height="0.8" fill="#b8c8e2" fill-opacity="0.4"/><rect x="389.4" y="608.3" width="0.8" height="0.8" fill="#8da2c4" fill-opacity="0.4"/><rect x="386.5" y="610.6" width="0.8" height="0.8" fill="#8da2c4" fill-opacity="0.4"/><rect x="388.3" y="608.4" width="0.8" height="0.8" fill="#8da2c4" fill-opacity="0.4"/><rect x="387.3" y="614.1" width="0.8" height="0.8" fill="#8da2c4" fill-opacity="0.4"/><rect x="384.8" y="607.7" width="0.8" height="0.8" fill="#8da2c4" fill-opacity="0.4"/><rect x="389.1" y="613.2" width="0.8" height="0.8" fill="#8da2c4" fill-opacity="0.4"/><rect x="377.8" y="622.5" width="0.8" height="0.8" fill="#8da2c4" fill-opacity="0.4"/><rect x="384.5" y="621.9" width="0.8" height="0.8" fill="#b8c8e2" fill-opacity="0.4"/><rect x="391.9" y="606.8" width="0.8" height="0.8" fill="#b8c8e2" fill-opacity="0.4"/><rect x="391.4" y="607.5" width="0.8" height="0.8" fill="#b8c8e2" fill-opacity="0.4"/><rect x="389.2" y="605.2" width="0.8" height="0.8" fill="#6a8680" fill-opacity="0.4"/><rect x="383.0" y="615.9" width="0.8" height="0.8" fill="#6a8680" fill-opacity="0.4"/><rect x="383.3" y="619.0" width="0.8" height="0.8" fill="#8da2c4" fill-opacity="0.4"/><rect x="386.2" y="613.6" width="0.8" height="0.8" fill="#b8c8e2" fill-opacity="0.4"/><rect x="389.6" y="610.3" width="0.8" height="0.8" fill="#8da2c4" fill-opacity="0.4"/><rect x="383.5" y="615.2" width="0.8" height="0.8" fill="#8da2c4" fill-opacity="0.4"/><rect x="393.7" y="603.9" width="0.8" height="0.8" fill="#6a8680" fill-opacity="0.4"/><rect x="389.9" y="611.3" width="0.8" height="0.8" fill="#8da2c4" fill-opacity="0.4"/><rect x="383.9" y="611.1" width="0.8" height="0.8" fill="#8da2c4" fill-opacity="0.4"/><rect x="390.0" y="608.2" width="0.8" height="0.8" fill="#8da2c4" fill-opacity="0.4"/><rect x="381.4" y="621.6" width="0.8" height="0.8" fill="#b8c8e2" fill-opacity="0.4"/><rect x="388.1" y="613.1" width="0.8" height="0.8" fill="#8da2c4" fill-opacity="0.4"/><rect x="390.3" y="606.3" width="0.8" height="0.8" fill="#b8c8e2" fill-opacity="0.4"/><rect x="381.7" y="609.1" width="0.8" height="0.8" fill="#8da2c4" fill-opacity="0.4"/><rect x="386.6" y="614.5" width="0.8" height="0.8" fill="#8da2c4" fill-opacity="0.4"/><rect x="388.9" y="606.9" width="0.8" height="0.8" fill="#b8c8e2" fill-opacity="0.4"/><rect x="385.4" y="612.5" width="0.8" height="0.8" fill="#8da2c4" fill-opacity="0.4"/><rect x="387.6" y="611.4" width="0.8" height="0.8" fill="#8da2c4" fill-opacity="0.4"/><rect x="385.8" y="611.7" width="0.8" height="0.8" fill="#8da2c4" fill-opacity="0.4"/><rect x="383.0" y="617.2" width="0.8" height="0.8" fill="#8da2c4" fill-opacity="0.4"/><rect x="384.8" y="610.7" width="0.8" height="0.8" fill="#b8c8e2" fill-opacity="0.4"/><rect x="384.9" y="611.5" width="0.8" height="0.8" fill="#8da2c4" fill-opacity="0.4"/><rect x="388.3" y="615.0" width="0.8" height="0.8" fill="#8da2c4" fill-opacity="0.4"/><rect x="382.4" y="620.3" width="0.8" height="0.8" fill="#8da2c4" fill-opacity="0.4"/><rect x="387.4" y="613.6" width="0.8" height="0.8" fill="#8da2c4" fill-opacity="0.4"/><rect x="388.1" y="610.1" width="0.8" height="0.8" fill="#b8c8e2" fill-opacity="0.4"/><rect x="378.2" y="617.6" width="0.8" height="0.8" fill="#6a8680" fill-opacity="0.4"/><rect x="387.5" y="615.4" width="0.8" height="0.8" fill="#6a8680" fill-opacity="0.4"/><rect x="391.0" y="612.0" width="0.8" height="0.8" fill="#b8c8e2" fill-opacity="0.4"/><rect x="394.8" y="601.0" width="0.8" height="0.8" fill="#8da2c4" fill-opacity="0.4"/><rect x="385.1" y="611.8" width="0.8" height="0.8" fill="#8da2c4" fill-opacity="0.4"/><rect x="386.1" y="612.7" width="0.8" height="0.8" fill="#8da2c4" fill-opacity="0.4"/><rect x="386.3" y="615.3" width="0.8" height="0.8" fill="#8da2c4" fill-opacity="0.4"/><rect x="391.0" y="609.8" width="0.8" height="0.8" fill="#8da2c4" fill-opacity="0.4"/><rect x="392.6" y="609.7" width="0.8" height="0.8" fill="#8da2c4" fill-opacity="0.4"/><rect x="391.3" y="608.3" width="0.8" height="0.8" fill="#8da2c4" fill-opacity="0.4"/><rect x="392.3" y="609.2" width="0.8" height="0.8" fill="#b8c8e2" fill-opacity="0.4"/><rect x="379.5" y="617.0" width="0.8" height="0.8" fill="#8da2c4" fill-opacity="0.4"/><rect x="384.7" y="615.5" width="0.8" height="0.8" fill="#8da2c4" fill-opacity="0.4"/><rect x="386.1" y="612.6" width="0.8" height="0.8" fill="#8da2c4" fill-opacity="0.4"/><rect x="381.6" y="614.5" width="0.8" height="0.8" fill="#8da2c4" fill-opacity="0.4"/><rect x="387.4" y="611.4" width="0.8" height="0.8" fill="#8da2c4" fill-opacity="0.4"/><rect x="390.1" y="605.0" width="0.8" height="0.8" fill="#8da2c4" fill-opacity="0.4"/><rect x="384.6" y="611.5" width="0.8" height="0.8" fill="#8da2c4" fill-opacity="0.4"/><rect x="375.7" y="617.0" width="0.8" height="0.8" fill="#8da2c4" fill-opacity="0.4"/><rect x="375.5" y="619.1" width="0.8" height="0.8" fill="#b8c8e2" fill-opacity="0.4"/><rect x="380.9" y="613.9" width="0.8" height="0.8" fill="#8da2c4" fill-opacity="0.4"/><rect x="384.6" y="614.9" width="0.8" height="0.8" fill="#6a8680" fill-opacity="0.4"/><rect x="389.1" y="606.5" width="0.8" height="0.8" fill="#6a8680" fill-opacity="0.4"/><rect x="389.6" y="608.8" width="0.8" height="0.8" fill="#b8c8e2" fill-opacity="0.4"/><rect x="387.0" y="614.1" width="0.8" height="0.8" fill="#6a8680" fill-opacity="0.4"/><rect x="389.7" y="610.1" width="0.8" height="0.8" fill="#8da2c4" fill-opacity="0.4"/><rect x="384.5" y="611.3" width="0.8" height="0.8" fill="#8da2c4" fill-opacity="0.4"/><rect x="382.2" y="615.0" width="0.8" height="0.8" fill="#8da2c4" fill-opacity="0.4"/><rect x="380.6" y="617.9" width="0.8" height="0.8" fill="#b8c8e2" fill-opacity="0.4"/><rect x="381.3" y="613.8" width="0.8" height="0.8" fill="#6a8680" fill-opacity="0.4"/><rect x="390.7" y="606.6" width="0.8" height="0.8" fill="#8da2c4" fill-opacity="0.4"/><rect x="389.0" y="607.0" width="0.8" height="0.8" fill="#b8c8e2" fill-opacity="0.4"/><rect x="382.2" y="611.0" width="0.8" height="0.8" fill="#6a8680" fill-opacity="0.4"/><rect x="387.3" y="608.9" width="0.8" height="0.8" fill="#b8c8e2" fill-opacity="0.4"/><rect x="381.3" y="617.1" width="0.8" height="0.8" fill="#8da2c4" fill-opacity="0.4"/><rect x="388.1" y="615.4" width="0.8" height="0.8" fill="#b8c8e2" fill-opacity="0.4"/><rect x="388.6" y="612.0" width="0.8" height="0.8" fill="#8da2c4" fill-opacity="0.4"/><rect x="391.2" y="610.3" width="0.8" height="0.8" fill="#8da2c4" fill-opacity="0.4"/><rect x="388.8" y="609.6" width="0.8" height="0.8" fill="#8da2c4" fill-opacity="0.4"/><rect x="385.6" y="610.9" width="0.8" height="0.8" fill="#8da2c4" fill-opacity="0.4"/><rect x="385.8" y="608.4" width="0.8" height="0.8" fill="#8da2c4" fill-opacity="0.4"/><rect x="390.5" y="602.2" width="0.8" height="0.8" fill="#8da2c4" fill-opacity="0.4"/><rect x="388.9" y="613.1" width="0.8" height="0.8" fill="#b8c8e2" fill-opacity="0.4"/><rect x="383.1" y="618.4" width="0.8" height="0.8" fill="#8da2c4" fill-opacity="0.4"/><rect x="384.6" y="610.4" width="0.8" height="0.8" fill="#8da2c4" fill-opacity="0.4"/><rect x="384.2" y="607.3" width="0.8" height="0.8" fill="#6a8680" fill-opacity="0.4"/><rect x="382.0" y="614.7" width="0.8" height="0.8" fill="#b8c8e2" fill-opacity="0.4"/><rect x="378.6" y="615.1" width="0.8" height="0.8" fill="#6a8680" fill-opacity="0.4"/><rect x="391.3" y="608.9" width="0.8" height="0.8" fill="#b8c8e2" fill-opacity="0.4"/><rect x="388.4" y="611.7" width="0.8" height="0.8" fill="#8da2c4" fill-opacity="0.4"/><rect x="375.7" y="618.5" width="0.8" height="0.8" fill="#6a8680" fill-opacity="0.4"/><rect x="393.6" y="608.1" width="0.8" height="0.8" fill="#8da2c4" fill-opacity="0.4"/><rect x="382.6" y="613.0" width="0.8" height="0.8" fill="#6a8680" fill-opacity="0.4"/><rect x="388.4" y="609.5" width="0.8" height="0.8" fill="#b8c8e2" fill-opacity="0.4"/><rect x="388.3" y="610.3" width="0.8" height="0.8" fill="#8da2c4" fill-opacity="0.4"/><rect x="379.9" y="607.5" width="0.8" height="0.8" fill="#8da2c4" fill-opacity="0.4"/><rect x="386.8" y="611.9" width="0.8" height="0.8" fill="#b8c8e2" fill-opacity="0.4"/><rect x="382.8" y="615.7" width="0.8" height="0.8" fill="#8da2c4" fill-opacity="0.4"/><rect x="386.6" y="605.2" width="0.8" height="0.8" fill="#8da2c4" fill-opacity="0.4"/>
<rect x="443.8" y="574.3" width="75.3" height="74.9" fill="#fff" stroke="#222" stroke-width="1.1"/>
<line x1="441.0" y1="589.6" x2="443.8" y2="589.6" stroke="#222" stroke-width="0.9"/>
<text x="430.6" y="594.0" font-size="7.4" text-anchor="middle" fill="#2b2b2b" textLength="9.4" lengthAdjust="spacingAndGlyphs">10<tspan dy="-3.4" font-size="5">4</tspan></text>
<line x1="441.0" y1="606.6" x2="443.8" y2="606.6" stroke="#222" stroke-width="0.9"/>
<text x="430.6" y="611.0" font-size="7.4" text-anchor="middle" fill="#2b2b2b" textLength="9.4" lengthAdjust="spacingAndGlyphs">10<tspan dy="-3.4" font-size="5">3</tspan></text>
<line x1="441.0" y1="623.5" x2="443.8" y2="623.5" stroke="#222" stroke-width="0.9"/>
<text x="430.6" y="627.9" font-size="7.4" text-anchor="middle" fill="#2b2b2b" textLength="9.4" lengthAdjust="spacingAndGlyphs">10<tspan dy="-3.4" font-size="5">2</tspan></text>
<line x1="441.0" y1="640.3" x2="443.8" y2="640.3" stroke="#222" stroke-width="0.9"/>
<text x="430.6" y="644.6999999999999" font-size="7.4" text-anchor="middle" fill="#2b2b2b" textLength="9.4" lengthAdjust="spacingAndGlyphs">10<tspan dy="-3.4" font-size="5">1</tspan></text>
<line x1="452.5" y1="649.2" x2="452.5" y2="652.2" stroke="#222" stroke-width="0.9"/>
<text x="452.9" y="664.2" font-size="7.8" text-anchor="middle" fill="#2b2b2b" textLength="10.7" lengthAdjust="spacingAndGlyphs">10<tspan dy="-3.4" font-size="5.2">1</tspan></text>
<line x1="469.3" y1="649.2" x2="469.3" y2="652.2" stroke="#222" stroke-width="0.9"/>
<text x="469.7" y="664.2" font-size="7.8" text-anchor="middle" fill="#2b2b2b" textLength="10.7" lengthAdjust="spacingAndGlyphs">10<tspan dy="-3.4" font-size="5.2">2</tspan></text>
<line x1="486.3" y1="649.2" x2="486.3" y2="652.2" stroke="#222" stroke-width="0.9"/>
<text x="486.7" y="664.2" font-size="7.8" text-anchor="middle" fill="#2b2b2b" textLength="10.7" lengthAdjust="spacingAndGlyphs">10<tspan dy="-3.4" font-size="5.2">3</tspan></text>
<line x1="503.2" y1="649.2" x2="503.2" y2="652.2" stroke="#222" stroke-width="0.9"/>
<text x="503.59999999999997" y="664.2" font-size="7.8" text-anchor="middle" fill="#2b2b2b" textLength="10.7" lengthAdjust="spacingAndGlyphs">10<tspan dy="-3.4" font-size="5.2">4</tspan></text>
<text x="500.7" y="585.7" font-size="8.1" text-anchor="middle" fill="#2b2b2b" textLength="22.8" lengthAdjust="spacingAndGlyphs">1.75%</text>
<ellipse cx="502.2" cy="602.8" rx="4.8" ry="3.7" fill="none" stroke="#1a1a1a" stroke-width="1.1" transform="rotate(-40 502.2 602.8)"/>
<ellipse cx="485.7" cy="611" rx="15.5" ry="5.2" fill="#c9d6ec" fill-opacity="0.75" filter="url(#blur1)" transform="rotate(-50 485.7 611)"/>
<ellipse cx="486.5" cy="611.8" rx="9" ry="3.4" fill="#7f9994" fill-opacity="0.8" filter="url(#blur1)" transform="rotate(-50 486.5 611.8)"/>
<rect x="480.1" y="618.6" width="0.8" height="0.8" fill="#b8c8e2" fill-opacity="0.4"/><rect x="486.3" y="610.7" width="0.8" height="0.8" fill="#8da2c4" fill-opacity="0.4"/><rect x="487.9" y="615.1" width="0.8" height="0.8" fill="#b8c8e2" fill-opacity="0.4"/><rect x="480.0" y="614.9" width="0.8" height="0.8" fill="#b8c8e2" fill-opacity="0.4"/><rect x="490.0" y="609.0" width="0.8" height="0.8" fill="#8da2c4" fill-opacity="0.4"/><rect x="486.6" y="609.3" width="0.8" height="0.8" fill="#6a8680" fill-opacity="0.4"/><rect x="492.6" y="605.3" width="0.8" height="0.8" fill="#8da2c4" fill-opacity="0.4"/><rect x="481.1" y="620.6" width="0.8" height="0.8" fill="#8da2c4" fill-opacity="0.4"/><rect x="495.8" y="602.0" width="0.8" height="0.8" fill="#b8c8e2" fill-opacity="0.4"/><rect x="487.3" y="608.5" width="0.8" height="0.8" fill="#8da2c4" fill-opacity="0.4"/><rect x="489.3" y="609.2" width="0.8" height="0.8" fill="#b8c8e2" fill-opacity="0.4"/><rect x="491.5" y="609.1" width="0.8" height="0.8" fill="#8da2c4" fill-opacity="0.4"/><rect x="492.3" y="609.1" width="0.8" height="0.8" fill="#8da2c4" fill-opacity="0.4"/><rect x="482.0" y="617.9" width="0.8" height="0.8" fill="#8da2c4" fill-opacity="0.4"/><rect x="485.2" y="612.2" width="0.8" height="0.8" fill="#b8c8e2" fill-opacity="0.4"/><rect x="482.2" y="612.2" width="0.8" height="0.8" fill="#8da2c4" fill-opacity="0.4"/><rect x="480.8" y="611.6" width="0.8" height="0.8" fill="#8da2c4" fill-opacity="0.4"/><rect x="487.8" y="612.0" width="0.8" height="0.8" fill="#b8c8e2" fill-opacity="0.4"/><rect x="485.5" y="607.1" width="0.8" height="0.8" fill="#8da2c4" fill-opacity="0.4"/><rect x="485.9" y="607.2" width="0.8" height="0.8" fill="#b8c8e2" fill-opacity="0.4"/><rect x="488.4" y="611.7" width="0.8" height="0.8" fill="#8da2c4" fill-opacity="0.4"/><rect x="485.1" y="610.0" width="0.8" height="0.8" fill="#b8c8e2" fill-opacity="0.4"/><rect x="491.1" y="609.8" width="0.8" height="0.8" fill="#8da2c4" fill-opacity="0.4"/><rect x="486.7" y="613.2" width="0.8" height="0.8" fill="#b8c8e2" fill-opacity="0.4"/><rect x="490.7" y="606.3" width="0.8" height="0.8" fill="#8da2c4" fill-opacity="0.4"/><rect x="486.8" y="613.8" width="0.8" height="0.8" fill="#6a8680" fill-opacity="0.4"/><rect x="494.0" y="608.4" width="0.8" height="0.8" fill="#8da2c4" fill-opacity="0.4"/><rect x="491.1" y="610.3" width="0.8" height="0.8" fill="#6a8680" fill-opacity="0.4"/><rect x="489.1" y="607.1" width="0.8" height="0.8" fill="#b8c8e2" fill-opacity="0.4"/><rect x="485.2" y="614.0" width="0.8" height="0.8" fill="#8da2c4" fill-opacity="0.4"/><rect x="492.0" y="604.8" width="0.8" height="0.8" fill="#6a8680" fill-opacity="0.4"/><rect x="490.6" y="605.1" width="0.8" height="0.8" fill="#8da2c4" fill-opacity="0.4"/><rect x="485.4" y="617.3" width="0.8" height="0.8" fill="#6a8680" fill-opacity="0.4"/><rect x="482.7" y="612.4" width="0.8" height="0.8" fill="#b8c8e2" fill-opacity="0.4"/><rect x="480.3" y="618.2" width="0.8" height="0.8" fill="#8da2c4" fill-opacity="0.4"/><rect x="492.8" y="600.0" width="0.8" height="0.8" fill="#8da2c4" fill-opacity="0.4"/><rect x="487.1" y="616.6" width="0.8" height="0.8" fill="#8da2c4" fill-opacity="0.4"/><rect x="489.7" y="604.7" width="0.8" height="0.8" fill="#b8c8e2" fill-opacity="0.4"/><rect x="483.7" y="610.9" width="0.8" height="0.8" fill="#8da2c4" fill-opacity="0.4"/><rect x="488.3" y="613.6" width="0.8" height="0.8" fill="#b8c8e2" fill-opacity="0.4"/><rect x="494.4" y="606.3" width="0.8" height="0.8" fill="#8da2c4" fill-opacity="0.4"/><rect x="487.9" y="612.4" width="0.8" height="0.8" fill="#6a8680" fill-opacity="0.4"/><rect x="479.3" y="616.7" width="0.8" height="0.8" fill="#6a8680" fill-opacity="0.4"/><rect x="491.8" y="602.2" width="0.8" height="0.8" fill="#8da2c4" fill-opacity="0.4"/><rect x="476.0" y="618.3" width="0.8" height="0.8" fill="#b8c8e2" fill-opacity="0.4"/><rect x="481.5" y="614.3" width="0.8" height="0.8" fill="#8da2c4" fill-opacity="0.4"/><rect x="482.9" y="609.6" width="0.8" height="0.8" fill="#8da2c4" fill-opacity="0.4"/><rect x="479.6" y="610.4" width="0.8" height="0.8" fill="#b8c8e2" fill-opacity="0.4"/><rect x="490.6" y="600.2" width="0.8" height="0.8" fill="#b8c8e2" fill-opacity="0.4"/><rect x="485.0" y="608.4" width="0.8" height="0.8" fill="#8da2c4" fill-opacity="0.4"/><rect x="484.8" y="614.7" width="0.8" height="0.8" fill="#6a8680" fill-opacity="0.4"/><rect x="481.6" y="611.5" width="0.8" height="0.8" fill="#b8c8e2" fill-opacity="0.4"/><rect x="491.0" y="608.0" width="0.8" height="0.8" fill="#b8c8e2" fill-opacity="0.4"/><rect x="484.1" y="614.7" width="0.8" height="0.8" fill="#8da2c4" fill-opacity="0.4"/><rect x="485.4" y="616.5" width="0.8" height="0.8" fill="#8da2c4" fill-opacity="0.4"/><rect x="489.6" y="608.1" width="0.8" height="0.8" fill="#b8c8e2" fill-opacity="0.4"/><rect x="483.4" y="608.3" width="0.8" height="0.8" fill="#6a8680" fill-opacity="0.4"/><rect x="485.4" y="612.1" width="0.8" height="0.8" fill="#8da2c4" fill-opacity="0.4"/><rect x="483.6" y="614.3" width="0.8" height="0.8" fill="#b8c8e2" fill-opacity="0.4"/><rect x="485.2" y="613.9" width="0.8" height="0.8" fill="#8da2c4" fill-opacity="0.4"/><rect x="486.1" y="610.4" width="0.8" height="0.8" fill="#8da2c4" fill-opacity="0.4"/><rect x="486.4" y="612.6" width="0.8" height="0.8" fill="#8da2c4" fill-opacity="0.4"/><rect x="491.5" y="612.3" width="0.8" height="0.8" fill="#b8c8e2" fill-opacity="0.4"/><rect x="483.9" y="611.1" width="0.8" height="0.8" fill="#8da2c4" fill-opacity="0.4"/><rect x="477.2" y="616.7" width="0.8" height="0.8" fill="#8da2c4" fill-opacity="0.4"/><rect x="478.7" y="621.2" width="0.8" height="0.8" fill="#6a8680" fill-opacity="0.4"/><rect x="488.7" y="612.0" width="0.8" height="0.8" fill="#b8c8e2" fill-opacity="0.4"/><rect x="482.4" y="618.3" width="0.8" height="0.8" fill="#b8c8e2" fill-opacity="0.4"/><rect x="490.5" y="604.4" width="0.8" height="0.8" fill="#b8c8e2" fill-opacity="0.4"/><rect x="484.1" y="617.8" width="0.8" height="0.8" fill="#8da2c4" fill-opacity="0.4"/><rect x="481.7" y="615.7" width="0.8" height="0.8" fill="#8da2c4" fill-opacity="0.4"/><rect x="488.7" y="609.5" width="0.8" height="0.8" fill="#b8c8e2" fill-opacity="0.4"/><rect x="486.2" y="611.5" width="0.8" height="0.8" fill="#6a8680" fill-opacity="0.4"/><rect x="487.7" y="617.1" width="0.8" height="0.8" fill="#b8c8e2" fill-opacity="0.4"/><rect x="481.6" y="620.8" width="0.8" height="0.8" fill="#6a8680" fill-opacity="0.4"/><rect x="485.6" y="612.8" width="0.8" height="0.8" fill="#b8c8e2" fill-opacity="0.4"/><rect x="486.7" y="605.5" width="0.8" height="0.8" fill="#b8c8e2" fill-opacity="0.4"/><rect x="482.1" y="618.0" width="0.8" height="0.8" fill="#8da2c4" fill-opacity="0.4"/><rect x="483.3" y="615.9" width="0.8" height="0.8" fill="#8da2c4" fill-opacity="0.4"/><rect x="481.5" y="619.9" width="0.8" height="0.8" fill="#8da2c4" fill-opacity="0.4"/><rect x="487.9" y="611.1" width="0.8" height="0.8" fill="#6a8680" fill-opacity="0.4"/><rect x="484.2" y="612.6" width="0.8" height="0.8" fill="#6a8680" fill-opacity="0.4"/><rect x="488.7" y="602.5" width="0.8" height="0.8" fill="#8da2c4" fill-opacity="0.4"/><rect x="483.8" y="610.1" width="0.8" height="0.8" fill="#8da2c4" fill-opacity="0.4"/><rect x="488.3" y="602.6" width="0.8" height="0.8" fill="#8da2c4" fill-opacity="0.4"/><rect x="486.1" y="610.0" width="0.8" height="0.8" fill="#8da2c4" fill-opacity="0.4"/><rect x="488.3" y="608.0" width="0.8" height="0.8" fill="#8da2c4" fill-opacity="0.4"/><rect x="483.4" y="610.6" width="0.8" height="0.8" fill="#8da2c4" fill-opacity="0.4"/><rect x="488.6" y="610.5" width="0.8" height="0.8" fill="#6a8680" fill-opacity="0.4"/><rect x="483.6" y="612.4" width="0.8" height="0.8" fill="#b8c8e2" fill-opacity="0.4"/><rect x="480.8" y="615.9" width="0.8" height="0.8" fill="#b8c8e2" fill-opacity="0.4"/><rect x="478.7" y="613.9" width="0.8" height="0.8" fill="#b8c8e2" fill-opacity="0.4"/><rect x="481.1" y="613.4" width="0.8" height="0.8" fill="#b8c8e2" fill-opacity="0.4"/><rect x="483.6" y="616.0" width="0.8" height="0.8" fill="#b8c8e2" fill-opacity="0.4"/><rect x="483.5" y="610.7" width="0.8" height="0.8" fill="#6a8680" fill-opacity="0.4"/><rect x="477.7" y="620.9" width="0.8" height="0.8" fill="#b8c8e2" fill-opacity="0.4"/><rect x="491.0" y="603.1" width="0.8" height="0.8" fill="#8da2c4" fill-opacity="0.4"/><rect x="482.4" y="617.8" width="0.8" height="0.8" fill="#b8c8e2" fill-opacity="0.4"/><rect x="486.0" y="608.9" width="0.8" height="0.8" fill="#8da2c4" fill-opacity="0.4"/><rect x="487.5" y="609.8" width="0.8" height="0.8" fill="#8da2c4" fill-opacity="0.4"/><rect x="488.9" y="607.3" width="0.8" height="0.8" fill="#8da2c4" fill-opacity="0.4"/><rect x="481.1" y="611.8" width="0.8" height="0.8" fill="#6a8680" fill-opacity="0.4"/><rect x="491.7" y="602.4" width="0.8" height="0.8" fill="#6a8680" fill-opacity="0.4"/><rect x="488.9" y="607.7" width="0.8" height="0.8" fill="#6a8680" fill-opacity="0.4"/><rect x="483.1" y="614.5" width="0.8" height="0.8" fill="#b8c8e2" fill-opacity="0.4"/><rect x="482.1" y="617.4" width="0.8" height="0.8" fill="#8da2c4" fill-opacity="0.4"/><rect x="486.6" y="611.5" width="0.8" height="0.8" fill="#b8c8e2" fill-opacity="0.4"/><rect x="482.4" y="606.3" width="0.8" height="0.8" fill="#8da2c4" fill-opacity="0.4"/><rect x="486.9" y="617.7" width="0.8" height="0.8" fill="#b8c8e2" fill-opacity="0.4"/><rect x="485.1" y="611.2" width="0.8" height="0.8" fill="#8da2c4" fill-opacity="0.4"/><rect x="479.3" y="619.3" width="0.8" height="0.8" fill="#6a8680" fill-opacity="0.4"/><rect x="484.2" y="609.4" width="0.8" height="0.8" fill="#8da2c4" fill-opacity="0.4"/><rect x="489.7" y="597.7" width="0.8" height="0.8" fill="#8da2c4" fill-opacity="0.4"/><rect x="490.1" y="610.7" width="0.8" height="0.8" fill="#b8c8e2" fill-opacity="0.4"/><rect x="484.8" y="614.2" width="0.8" height="0.8" fill="#8da2c4" fill-opacity="0.4"/><rect x="483.4" y="612.5" width="0.8" height="0.8" fill="#b8c8e2" fill-opacity="0.4"/><rect x="491.4" y="602.4" width="0.8" height="0.8" fill="#8da2c4" fill-opacity="0.4"/><rect x="484.4" y="613.4" width="0.8" height="0.8" fill="#b8c8e2" fill-opacity="0.4"/><rect x="483.1" y="612.4" width="0.8" height="0.8" fill="#b8c8e2" fill-opacity="0.4"/><rect x="479.8" y="615.2" width="0.8" height="0.8" fill="#8da2c4" fill-opacity="0.4"/><rect x="485.9" y="614.1" width="0.8" height="0.8" fill="#6a8680" fill-opacity="0.4"/><rect x="485.2" y="615.4" width="0.8" height="0.8" fill="#8da2c4" fill-opacity="0.4"/><rect x="489.3" y="610.0" width="0.8" height="0.8" fill="#8da2c4" fill-opacity="0.4"/><rect x="485.5" y="614.4" width="0.8" height="0.8" fill="#8da2c4" fill-opacity="0.4"/><rect x="488.4" y="606.6" width="0.8" height="0.8" fill="#8da2c4" fill-opacity="0.4"/><rect x="481.8" y="612.5" width="0.8" height="0.8" fill="#b8c8e2" fill-opacity="0.4"/><rect x="484.1" y="611.7" width="0.8" height="0.8" fill="#b8c8e2" fill-opacity="0.4"/><rect x="489.1" y="608.7" width="0.8" height="0.8" fill="#6a8680" fill-opacity="0.4"/><rect x="491.8" y="603.4" width="0.8" height="0.8" fill="#8da2c4" fill-opacity="0.4"/><rect x="483.1" y="615.2" width="0.8" height="0.8" fill="#6a8680" fill-opacity="0.4"/><rect x="487.2" y="611.7" width="0.8" height="0.8" fill="#b8c8e2" fill-opacity="0.4"/><rect x="480.2" y="613.8" width="0.8" height="0.8" fill="#8da2c4" fill-opacity="0.4"/><rect x="489.7" y="605.2" width="0.8" height="0.8" fill="#6a8680" fill-opacity="0.4"/><rect x="483.4" y="616.4" width="0.8" height="0.8" fill="#8da2c4" fill-opacity="0.4"/><rect x="481.2" y="610.3" width="0.8" height="0.8" fill="#8da2c4" fill-opacity="0.4"/><rect x="478.6" y="618.5" width="0.8" height="0.8" fill="#b8c8e2" fill-opacity="0.4"/><rect x="480.5" y="612.8" width="0.8" height="0.8" fill="#b8c8e2" fill-opacity="0.4"/><rect x="484.7" y="614.7" width="0.8" height="0.8" fill="#8da2c4" fill-opacity="0.4"/><rect x="489.3" y="602.5" width="0.8" height="0.8" fill="#8da2c4" fill-opacity="0.4"/><rect x="493.7" y="599.8" width="0.8" height="0.8" fill="#8da2c4" fill-opacity="0.4"/><rect x="486.3" y="606.9" width="0.8" height="0.8" fill="#8da2c4" fill-opacity="0.4"/><rect x="487.3" y="612.9" width="0.8" height="0.8" fill="#8da2c4" fill-opacity="0.4"/><rect x="488.0" y="608.9" width="0.8" height="0.8" fill="#8da2c4" fill-opacity="0.4"/><rect x="487.6" y="610.3" width="0.8" height="0.8" fill="#6a8680" fill-opacity="0.4"/><rect x="483.6" y="616.4" width="0.8" height="0.8" fill="#b8c8e2" fill-opacity="0.4"/><rect x="487.4" y="608.1" width="0.8" height="0.8" fill="#8da2c4" fill-opacity="0.4"/><rect x="488.5" y="601.4" width="0.8" height="0.8" fill="#6a8680" fill-opacity="0.4"/><rect x="481.5" y="615.4" width="0.8" height="0.8" fill="#8da2c4" fill-opacity="0.4"/><rect x="490.1" y="602.4" width="0.8" height="0.8" fill="#b8c8e2" fill-opacity="0.4"/><rect x="485.2" y="608.8" width="0.8" height="0.8" fill="#b8c8e2" fill-opacity="0.4"/><rect x="486.9" y="608.6" width="0.8" height="0.8" fill="#b8c8e2" fill-opacity="0.4"/><rect x="492.1" y="610.0" width="0.8" height="0.8" fill="#6a8680" fill-opacity="0.4"/><rect x="481.4" y="613.0" width="0.8" height="0.8" fill="#8da2c4" fill-opacity="0.4"/><rect x="481.8" y="615.7" width="0.8" height="0.8" fill="#8da2c4" fill-opacity="0.4"/><rect x="495.9" y="602.7" width="0.8" height="0.8" fill="#b8c8e2" fill-opacity="0.4"/><rect x="476.9" y="618.7" width="0.8" height="0.8" fill="#6a8680" fill-opacity="0.4"/><rect x="480.0" y="616.3" width="0.8" height="0.8" fill="#6a8680" fill-opacity="0.4"/><rect x="482.3" y="620.8" width="0.8" height="0.8" fill="#8da2c4" fill-opacity="0.4"/><rect x="485.0" y="607.4" width="0.8" height="0.8" fill="#b8c8e2" fill-opacity="0.4"/><rect x="488.6" y="607.4" width="0.8" height="0.8" fill="#8da2c4" fill-opacity="0.4"/><rect x="484.9" y="606.0" width="0.8" height="0.8" fill="#b8c8e2" fill-opacity="0.4"/><rect x="484.0" y="607.4" width="0.8" height="0.8" fill="#6a8680" fill-opacity="0.4"/><rect x="482.0" y="612.6" width="0.8" height="0.8" fill="#8da2c4" fill-opacity="0.4"/><rect x="488.0" y="609.2" width="0.8" height="0.8" fill="#8da2c4" fill-opacity="0.4"/><rect x="487.8" y="608.2" width="0.8" height="0.8" fill="#b8c8e2" fill-opacity="0.4"/><rect x="496.5" y="605.4" width="0.8" height="0.8" fill="#b8c8e2" fill-opacity="0.4"/><rect x="492.2" y="609.5" width="0.8" height="0.8" fill="#6a8680" fill-opacity="0.4"/><rect x="488.5" y="607.3" width="0.8" height="0.8" fill="#8da2c4" fill-opacity="0.4"/><rect x="482.6" y="612.1" width="0.8" height="0.8" fill="#b8c8e2" fill-opacity="0.4"/><rect x="480.7" y="611.1" width="0.8" height="0.8" fill="#6a8680" fill-opacity="0.4"/><rect x="484.2" y="609.7" width="0.8" height="0.8" fill="#b8c8e2" fill-opacity="0.4"/><rect x="483.8" y="614.2" width="0.8" height="0.8" fill="#8da2c4" fill-opacity="0.4"/><rect x="481.7" y="613.4" width="0.8" height="0.8" fill="#8da2c4" fill-opacity="0.4"/><rect x="481.5" y="616.2" width="0.8" height="0.8" fill="#8da2c4" fill-opacity="0.4"/><rect x="480.0" y="615.9" width="0.8" height="0.8" fill="#b8c8e2" fill-opacity="0.4"/><rect x="494.4" y="600.0" width="0.8" height="0.8" fill="#8da2c4" fill-opacity="0.4"/><rect x="487.1" y="607.0" width="0.8" height="0.8" fill="#6a8680" fill-opacity="0.4"/><rect x="489.7" y="607.4" width="0.8" height="0.8" fill="#6a8680" fill-opacity="0.4"/><rect x="479.8" y="613.1" width="0.8" height="0.8" fill="#8da2c4" fill-opacity="0.4"/><rect x="496.6" y="604.6" width="0.8" height="0.8" fill="#8da2c4" fill-opacity="0.4"/><rect x="489.4" y="610.1" width="0.8" height="0.8" fill="#6a8680" fill-opacity="0.4"/><rect x="473.3" y="613.7" width="0.8" height="0.8" fill="#b8c8e2" fill-opacity="0.4"/><rect x="478.8" y="622.4" width="0.8" height="0.8" fill="#8da2c4" fill-opacity="0.4"/><rect x="497.2" y="600.3" width="0.8" height="0.8" fill="#6a8680" fill-opacity="0.4"/><rect x="481.4" y="612.6" width="0.8" height="0.8" fill="#8da2c4" fill-opacity="0.4"/><rect x="486.7" y="611.2" width="0.8" height="0.8" fill="#8da2c4" fill-opacity="0.4"/><rect x="477.4" y="621.9" width="0.8" height="0.8" fill="#6a8680" fill-opacity="0.4"/><rect x="479.2" y="618.2" width="0.8" height="0.8" fill="#8da2c4" fill-opacity="0.4"/><rect x="483.9" y="607.3" width="0.8" height="0.8" fill="#6a8680" fill-opacity="0.4"/><rect x="487.0" y="604.8" width="0.8" height="0.8" fill="#b8c8e2" fill-opacity="0.4"/><rect x="489.8" y="609.8" width="0.8" height="0.8" fill="#8da2c4" fill-opacity="0.4"/><rect x="488.3" y="610.0" width="0.8" height="0.8" fill="#8da2c4" fill-opacity="0.4"/><rect x="490.6" y="609.8" width="0.8" height="0.8" fill="#8da2c4" fill-opacity="0.4"/><rect x="491.8" y="603.3" width="0.8" height="0.8" fill="#b8c8e2" fill-opacity="0.4"/><rect x="482.6" y="616.2" width="0.8" height="0.8" fill="#8da2c4" fill-opacity="0.4"/><rect x="493.8" y="599.5" width="0.8" height="0.8" fill="#b8c8e2" fill-opacity="0.4"/><rect x="483.5" y="611.9" width="0.8" height="0.8" fill="#b8c8e2" fill-opacity="0.4"/><rect x="489.0" y="610.0" width="0.8" height="0.8" fill="#b8c8e2" fill-opacity="0.4"/><rect x="488.3" y="610.2" width="0.8" height="0.8" fill="#b8c8e2" fill-opacity="0.4"/><rect x="477.3" y="621.7" width="0.8" height="0.8" fill="#8da2c4" fill-opacity="0.4"/><rect x="496.4" y="602.9" width="0.8" height="0.8" fill="#b8c8e2" fill-opacity="0.4"/><rect x="481.7" y="611.4" width="0.8" height="0.8" fill="#8da2c4" fill-opacity="0.4"/><rect x="490.2" y="605.0" width="0.8" height="0.8" fill="#6a8680" fill-opacity="0.4"/><rect x="488.9" y="609.6" width="0.8" height="0.8" fill="#b8c8e2" fill-opacity="0.4"/><rect x="489.5" y="613.9" width="0.8" height="0.8" fill="#8da2c4" fill-opacity="0.4"/><rect x="488.4" y="608.8" width="0.8" height="0.8" fill="#8da2c4" fill-opacity="0.4"/><rect x="492.6" y="600.3" width="0.8" height="0.8" fill="#b8c8e2" fill-opacity="0.4"/><rect x="484.9" y="612.5" width="0.8" height="0.8" fill="#6a8680" fill-opacity="0.4"/><rect x="488.5" y="609.4" width="0.8" height="0.8" fill="#8da2c4" fill-opacity="0.4"/><rect x="486.5" y="608.2" width="0.8" height="0.8" fill="#8da2c4" fill-opacity="0.4"/><rect x="486.0" y="610.4" width="0.8" height="0.8" fill="#b8c8e2" fill-opacity="0.4"/><rect x="489.1" y="609.3" width="0.8" height="0.8" fill="#8da2c4" fill-opacity="0.4"/><rect x="478.5" y="622.7" width="0.8" height="0.8" fill="#6a8680" fill-opacity="0.4"/><rect x="483.8" y="612.9" width="0.8" height="0.8" fill="#8da2c4" fill-opacity="0.4"/><rect x="486.7" y="616.1" width="0.8" height="0.8" fill="#6a8680" fill-opacity="0.4"/><rect x="489.7" y="606.8" width="0.8" height="0.8" fill="#6a8680" fill-opacity="0.4"/><rect x="487.3" y="610.3" width="0.8" height="0.8" fill="#8da2c4" fill-opacity="0.4"/><rect x="487.3" y="607.2" width="0.8" height="0.8" fill="#b8c8e2" fill-opacity="0.4"/><rect x="492.0" y="607.2" width="0.8" height="0.8" fill="#8da2c4" fill-opacity="0.4"/><rect x="478.3" y="616.4" width="0.8" height="0.8" fill="#6a8680" fill-opacity="0.4"/><rect x="479.7" y="623.2" width="0.8" height="0.8" fill="#6a8680" fill-opacity="0.4"/><rect x="487.7" y="608.6" width="0.8" height="0.8" fill="#8da2c4" fill-opacity="0.4"/><rect x="479.2" y="611.4" width="0.8" height="0.8" fill="#8da2c4" fill-opacity="0.4"/><rect x="484.2" y="608.6" width="0.8" height="0.8" fill="#8da2c4" fill-opacity="0.4"/><rect x="486.2" y="610.6" width="0.8" height="0.8" fill="#8da2c4" fill-opacity="0.4"/><rect x="490.3" y="603.2" width="0.8" height="0.8" fill="#6a8680" fill-opacity="0.4"/><rect x="488.4" y="605.9" width="0.8" height="0.8" fill="#b8c8e2" fill-opacity="0.4"/><rect x="479.8" y="613.4" width="0.8" height="0.8" fill="#8da2c4" fill-opacity="0.4"/><rect x="486.9" y="608.2" width="0.8" height="0.8" fill="#8da2c4" fill-opacity="0.4"/><rect x="480.3" y="611.8" width="0.8" height="0.8" fill="#6a8680" fill-opacity="0.4"/><rect x="485.8" y="613.8" width="0.8" height="0.8" fill="#b8c8e2" fill-opacity="0.4"/><rect x="494.9" y="602.2" width="0.8" height="0.8" fill="#8da2c4" fill-opacity="0.4"/><rect x="483.9" y="615.2" width="0.8" height="0.8" fill="#b8c8e2" fill-opacity="0.4"/><rect x="487.6" y="610.5" width="0.8" height="0.8" fill="#8da2c4" fill-opacity="0.4"/><rect x="491.6" y="607.8" width="0.8" height="0.8" fill="#6a8680" fill-opacity="0.4"/><rect x="490.4" y="605.5" width="0.8" height="0.8" fill="#8da2c4" fill-opacity="0.4"/><rect x="485.9" y="614.0" width="0.8" height="0.8" fill="#8da2c4" fill-opacity="0.4"/><rect x="483.4" y="615.0" width="0.8" height="0.8" fill="#8da2c4" fill-opacity="0.4"/><rect x="495.2" y="606.1" width="0.8" height="0.8" fill="#b8c8e2" fill-opacity="0.4"/><rect x="493.0" y="601.6" width="0.8" height="0.8" fill="#b8c8e2" fill-opacity="0.4"/><rect x="486.9" y="611.4" width="0.8" height="0.8" fill="#6a8680" fill-opacity="0.4"/><rect x="480.3" y="611.9" width="0.8" height="0.8" fill="#8da2c4" fill-opacity="0.4"/><rect x="484.8" y="607.6" width="0.8" height="0.8" fill="#8da2c4" fill-opacity="0.4"/><rect x="493.1" y="611.7" width="0.8" height="0.8" fill="#b8c8e2" fill-opacity="0.4"/><rect x="487.6" y="609.6" width="0.8" height="0.8" fill="#b8c8e2" fill-opacity="0.4"/><rect x="484.5" y="615.8" width="0.8" height="0.8" fill="#8da2c4" fill-opacity="0.4"/><rect x="489.8" y="610.1" width="0.8" height="0.8" fill="#8da2c4" fill-opacity="0.4"/><rect x="487.6" y="610.7" width="0.8" height="0.8" fill="#8da2c4" fill-opacity="0.4"/><rect x="487.3" y="610.0" width="0.8" height="0.8" fill="#8da2c4" fill-opacity="0.4"/><rect x="493.1" y="604.1" width="0.8" height="0.8" fill="#b8c8e2" fill-opacity="0.4"/><rect x="478.5" y="610.7" width="0.8" height="0.8" fill="#8da2c4" fill-opacity="0.4"/><rect x="482.8" y="616.3" width="0.8" height="0.8" fill="#8da2c4" fill-opacity="0.4"/><rect x="486.1" y="609.7" width="0.8" height="0.8" fill="#6a8680" fill-opacity="0.4"/><rect x="475.5" y="613.5" width="0.8" height="0.8" fill="#8da2c4" fill-opacity="0.4"/><rect x="491.2" y="598.5" width="0.8" height="0.8" fill="#b8c8e2" fill-opacity="0.4"/><rect x="479.1" y="616.2" width="0.8" height="0.8" fill="#8da2c4" fill-opacity="0.4"/><rect x="487.1" y="605.4" width="0.8" height="0.8" fill="#b8c8e2" fill-opacity="0.4"/><rect x="482.3" y="618.0" width="0.8" height="0.8" fill="#b8c8e2" fill-opacity="0.4"/><rect x="491.2" y="602.0" width="0.8" height="0.8" fill="#8da2c4" fill-opacity="0.4"/><rect x="483.8" y="610.6" width="0.8" height="0.8" fill="#8da2c4" fill-opacity="0.4"/><rect x="478.6" y="618.5" width="0.8" height="0.8" fill="#8da2c4" fill-opacity="0.4"/><rect x="488.2" y="609.9" width="0.8" height="0.8" fill="#b8c8e2" fill-opacity="0.4"/><rect x="490.3" y="609.7" width="0.8" height="0.8" fill="#6a8680" fill-opacity="0.4"/><rect x="483.6" y="614.7" width="0.8" height="0.8" fill="#b8c8e2" fill-opacity="0.4"/><rect x="482.9" y="616.4" width="0.8" height="0.8" fill="#8da2c4" fill-opacity="0.4"/><rect x="482.6" y="611.6" width="0.8" height="0.8" fill="#6a8680" fill-opacity="0.4"/><rect x="479.4" y="618.6" width="0.8" height="0.8" fill="#6a8680" fill-opacity="0.4"/><rect x="486.5" y="609.9" width="0.8" height="0.8" fill="#6a8680" fill-opacity="0.4"/><rect x="496.5" y="603.6" width="0.8" height="0.8" fill="#b8c8e2" fill-opacity="0.4"/><rect x="488.3" y="613.8" width="0.8" height="0.8" fill="#b8c8e2" fill-opacity="0.4"/><rect x="480.9" y="618.3" width="0.8" height="0.8" fill="#8da2c4" fill-opacity="0.4"/><rect x="479.8" y="613.2" width="0.8" height="0.8" fill="#8da2c4" fill-opacity="0.4"/><rect x="479.3" y="614.1" width="0.8" height="0.8" fill="#6a8680" fill-opacity="0.4"/><rect x="480.1" y="616.6" width="0.8" height="0.8" fill="#8da2c4" fill-opacity="0.4"/><rect x="492.3" y="610.6" width="0.8" height="0.8" fill="#8da2c4" fill-opacity="0.4"/><rect x="486.9" y="608.5" width="0.8" height="0.8" fill="#8da2c4" fill-opacity="0.4"/><rect x="484.6" y="611.6" width="0.8" height="0.8" fill="#8da2c4" fill-opacity="0.4"/><rect x="485.2" y="608.1" width="0.8" height="0.8" fill="#8da2c4" fill-opacity="0.4"/><rect x="496.8" y="601.1" width="0.8" height="0.8" fill="#8da2c4" fill-opacity="0.4"/><rect x="480.5" y="612.5" width="0.8" height="0.8" fill="#8da2c4" fill-opacity="0.4"/><rect x="478.8" y="617.3" width="0.8" height="0.8" fill="#8da2c4" fill-opacity="0.4"/><rect x="490.2" y="614.1" width="0.8" height="0.8" fill="#8da2c4" fill-opacity="0.4"/><rect x="481.3" y="616.6" width="0.8" height="0.8" fill="#b8c8e2" fill-opacity="0.4"/><rect x="487.7" y="603.7" width="0.8" height="0.8" fill="#b8c8e2" fill-opacity="0.4"/><rect x="483.7" y="612.9" width="0.8" height="0.8" fill="#b8c8e2" fill-opacity="0.4"/><rect x="480.6" y="619.7" width="0.8" height="0.8" fill="#8da2c4" fill-opacity="0.4"/><rect x="489.9" y="608.5" width="0.8" height="0.8" fill="#6a8680" fill-opacity="0.4"/><rect x="479.6" y="618.4" width="0.8" height="0.8" fill="#8da2c4" fill-opacity="0.4"/><rect x="487.7" y="611.5" width="0.8" height="0.8" fill="#8da2c4" fill-opacity="0.4"/><rect x="496.1" y="604.7" width="0.8" height="0.8" fill="#8da2c4" fill-opacity="0.4"/><rect x="488.8" y="607.3" width="0.8" height="0.8" fill="#b8c8e2" fill-opacity="0.4"/><rect x="477.7" y="615.9" width="0.8" height="0.8" fill="#8da2c4" fill-opacity="0.4"/><rect x="493.1" y="600.8" width="0.8" height="0.8" fill="#b8c8e2" fill-opacity="0.4"/><rect x="482.3" y="612.5" width="0.8" height="0.8" fill="#8da2c4" fill-opacity="0.4"/><rect x="487.9" y="605.8" width="0.8" height="0.8" fill="#b8c8e2" fill-opacity="0.4"/><rect x="479.8" y="618.9" width="0.8" height="0.8" fill="#8da2c4" fill-opacity="0.4"/><rect x="484.6" y="610.0" width="0.8" height="0.8" fill="#b8c8e2" fill-opacity="0.4"/><rect x="477.4" y="615.8" width="0.8" height="0.8" fill="#b8c8e2" fill-opacity="0.4"/><rect x="492.1" y="609.6" width="0.8" height="0.8" fill="#8da2c4" fill-opacity="0.4"/><rect x="477.5" y="618.2" width="0.8" height="0.8" fill="#6a8680" fill-opacity="0.4"/><rect x="490.6" y="607.7" width="0.8" height="0.8" fill="#8da2c4" fill-opacity="0.4"/><rect x="486.6" y="606.9" width="0.8" height="0.8" fill="#6a8680" fill-opacity="0.4"/><rect x="485.0" y="608.0" width="0.8" height="0.8" fill="#b8c8e2" fill-opacity="0.4"/><rect x="484.0" y="611.4" width="0.8" height="0.8" fill="#8da2c4" fill-opacity="0.4"/><rect x="493.5" y="607.0" width="0.8" height="0.8" fill="#8da2c4" fill-opacity="0.4"/><rect x="486.4" y="615.8" width="0.8" height="0.8" fill="#6a8680" fill-opacity="0.4"/><rect x="491.9" y="608.0" width="0.8" height="0.8" fill="#8da2c4" fill-opacity="0.4"/><rect x="484.5" y="606.4" width="0.8" height="0.8" fill="#b8c8e2" fill-opacity="0.4"/><rect x="483.4" y="612.8" width="0.8" height="0.8" fill="#6a8680" fill-opacity="0.4"/><rect x="491.5" y="607.3" width="0.8" height="0.8" fill="#6a8680" fill-opacity="0.4"/><rect x="487.2" y="613.4" width="0.8" height="0.8" fill="#b8c8e2" fill-opacity="0.4"/><rect x="482.2" y="612.6" width="0.8" height="0.8" fill="#8da2c4" fill-opacity="0.4"/><rect x="489.2" y="603.2" width="0.8" height="0.8" fill="#8da2c4" fill-opacity="0.4"/><rect x="479.0" y="612.4" width="0.8" height="0.8" fill="#b8c8e2" fill-opacity="0.4"/><rect x="487.4" y="607.2" width="0.8" height="0.8" fill="#8da2c4" fill-opacity="0.4"/><rect x="486.8" y="607.6" width="0.8" height="0.8" fill="#8da2c4" fill-opacity="0.4"/><rect x="493.9" y="607.4" width="0.8" height="0.8" fill="#6a8680" fill-opacity="0.4"/><rect x="490.8" y="610.8" width="0.8" height="0.8" fill="#8da2c4" fill-opacity="0.4"/><rect x="485.1" y="611.4" width="0.8" height="0.8" fill="#b8c8e2" fill-opacity="0.4"/><rect x="483.5" y="609.2" width="0.8" height="0.8" fill="#b8c8e2" fill-opacity="0.4"/><rect x="490.5" y="608.1" width="0.8" height="0.8" fill="#b8c8e2" fill-opacity="0.4"/><rect x="483.1" y="618.6" width="0.8" height="0.8" fill="#b8c8e2" fill-opacity="0.4"/><rect x="485.3" y="605.7" width="0.8" height="0.8" fill="#8da2c4" fill-opacity="0.4"/><rect x="485.9" y="604.6" width="0.8" height="0.8" fill="#8da2c4" fill-opacity="0.4"/><rect x="483.0" y="610.4" width="0.8" height="0.8" fill="#b8c8e2" fill-opacity="0.4"/><rect x="485.4" y="615.0" width="0.8" height="0.8" fill="#8da2c4" fill-opacity="0.4"/><rect x="488.7" y="604.3" width="0.8" height="0.8" fill="#b8c8e2" fill-opacity="0.4"/><rect x="480.8" y="616.3" width="0.8" height="0.8" fill="#8da2c4" fill-opacity="0.4"/><rect x="481.4" y="612.9" width="0.8" height="0.8" fill="#8da2c4" fill-opacity="0.4"/><rect x="483.4" y="613.6" width="0.8" height="0.8" fill="#b8c8e2" fill-opacity="0.4"/><rect x="484.8" y="608.6" width="0.8" height="0.8" fill="#8da2c4" fill-opacity="0.4"/><rect x="490.9" y="603.8" width="0.8" height="0.8" fill="#8da2c4" fill-opacity="0.4"/><rect x="491.6" y="606.6" width="0.8" height="0.8" fill="#8da2c4" fill-opacity="0.4"/><rect x="489.3" y="603.2" width="0.8" height="0.8" fill="#8da2c4" fill-opacity="0.4"/><rect x="484.6" y="613.1" width="0.8" height="0.8" fill="#8da2c4" fill-opacity="0.4"/><rect x="476.3" y="619.5" width="0.8" height="0.8" fill="#8da2c4" fill-opacity="0.4"/><rect x="488.5" y="607.0" width="0.8" height="0.8" fill="#8da2c4" fill-opacity="0.4"/><rect x="486.4" y="607.1" width="0.8" height="0.8" fill="#8da2c4" fill-opacity="0.4"/><rect x="481.2" y="618.2" width="0.8" height="0.8" fill="#8da2c4" fill-opacity="0.4"/><rect x="491.7" y="607.0" width="0.8" height="0.8" fill="#b8c8e2" fill-opacity="0.4"/><rect x="483.0" y="613.4" width="0.8" height="0.8" fill="#6a8680" fill-opacity="0.4"/><rect x="482.0" y="617.5" width="0.8" height="0.8" fill="#6a8680" fill-opacity="0.4"/><rect x="490.6" y="608.5" width="0.8" height="0.8" fill="#8da2c4" fill-opacity="0.4"/><rect x="482.8" y="612.5" width="0.8" height="0.8" fill="#8da2c4" fill-opacity="0.4"/><rect x="488.8" y="612.0" width="0.8" height="0.8" fill="#8da2c4" fill-opacity="0.4"/><rect x="491.6" y="600.6" width="0.8" height="0.8" fill="#b8c8e2" fill-opacity="0.4"/><rect x="481.1" y="620.3" width="0.8" height="0.8" fill="#b8c8e2" fill-opacity="0.4"/><rect x="483.3" y="604.7" width="0.8" height="0.8" fill="#8da2c4" fill-opacity="0.4"/><rect x="482.4" y="606.9" width="0.8" height="0.8" fill="#8da2c4" fill-opacity="0.4"/><rect x="485.5" y="612.0" width="0.8" height="0.8" fill="#6a8680" fill-opacity="0.4"/><rect x="486.1" y="611.0" width="0.8" height="0.8" fill="#8da2c4" fill-opacity="0.4"/><rect x="479.1" y="618.3" width="0.8" height="0.8" fill="#6a8680" fill-opacity="0.4"/><rect x="484.0" y="611.6" width="0.8" height="0.8" fill="#6a8680" fill-opacity="0.4"/><rect x="488.5" y="602.7" width="0.8" height="0.8" fill="#6a8680" fill-opacity="0.4"/><rect x="486.5" y="605.1" width="0.8" height="0.8" fill="#b8c8e2" fill-opacity="0.4"/><rect x="490.2" y="605.8" width="0.8" height="0.8" fill="#b8c8e2" fill-opacity="0.4"/><rect x="481.8" y="615.4" width="0.8" height="0.8" fill="#b8c8e2" fill-opacity="0.4"/><rect x="485.7" y="616.0" width="0.8" height="0.8" fill="#8da2c4" fill-opacity="0.4"/><rect x="484.5" y="616.9" width="0.8" height="0.8" fill="#8da2c4" fill-opacity="0.4"/><rect x="490.5" y="605.7" width="0.8" height="0.8" fill="#6a8680" fill-opacity="0.4"/><rect x="478.6" y="618.6" width="0.8" height="0.8" fill="#8da2c4" fill-opacity="0.4"/><rect x="490.5" y="604.7" width="0.8" height="0.8" fill="#6a8680" fill-opacity="0.4"/><rect x="477.9" y="615.4" width="0.8" height="0.8" fill="#8da2c4" fill-opacity="0.4"/><rect x="490.6" y="600.3" width="0.8" height="0.8" fill="#8da2c4" fill-opacity="0.4"/><rect x="484.3" y="619.3" width="0.8" height="0.8" fill="#6a8680" fill-opacity="0.4"/><rect x="479.9" y="615.3" width="0.8" height="0.8" fill="#8da2c4" fill-opacity="0.4"/><rect x="484.1" y="612.4" width="0.8" height="0.8" fill="#b8c8e2" fill-opacity="0.4"/><rect x="489.1" y="612.0" width="0.8" height="0.8" fill="#8da2c4" fill-opacity="0.4"/><rect x="485.1" y="617.3" width="0.8" height="0.8" fill="#b8c8e2" fill-opacity="0.4"/><rect x="497.7" y="604.7" width="0.8" height="0.8" fill="#8da2c4" fill-opacity="0.4"/><rect x="481.6" y="619.0" width="0.8" height="0.8" fill="#b8c8e2" fill-opacity="0.4"/><rect x="477.3" y="614.5" width="0.8" height="0.8" fill="#8da2c4" fill-opacity="0.4"/><rect x="482.5" y="614.7" width="0.8" height="0.8" fill="#b8c8e2" fill-opacity="0.4"/><rect x="480.5" y="618.3" width="0.8" height="0.8" fill="#6a8680" fill-opacity="0.4"/><rect x="481.3" y="616.2" width="0.8" height="0.8" fill="#b8c8e2" fill-opacity="0.4"/><rect x="493.8" y="608.5" width="0.8" height="0.8" fill="#8da2c4" fill-opacity="0.4"/><rect x="477.7" y="620.6" width="0.8" height="0.8" fill="#6a8680" fill-opacity="0.4"/><rect x="492.2" y="603.1" width="0.8" height="0.8" fill="#b8c8e2" fill-opacity="0.4"/><rect x="480.5" y="620.0" width="0.8" height="0.8" fill="#b8c8e2" fill-opacity="0.4"/><rect x="491.2" y="604.7" width="0.8" height="0.8" fill="#b8c8e2" fill-opacity="0.4"/><rect x="483.4" y="619.2" width="0.8" height="0.8" fill="#b8c8e2" fill-opacity="0.4"/><rect x="487.3" y="607.0" width="0.8" height="0.8" fill="#b8c8e2" fill-opacity="0.4"/><rect x="481.5" y="614.7" width="0.8" height="0.8" fill="#8da2c4" fill-opacity="0.4"/><rect x="494.3" y="604.5" width="0.8" height="0.8" fill="#8da2c4" fill-opacity="0.4"/><rect x="485.0" y="614.1" width="0.8" height="0.8" fill="#b8c8e2" fill-opacity="0.4"/><rect x="477.5" y="621.1" width="0.8" height="0.8" fill="#8da2c4" fill-opacity="0.4"/><rect x="484.2" y="618.7" width="0.8" height="0.8" fill="#b8c8e2" fill-opacity="0.4"/><rect x="490.7" y="606.7" width="0.8" height="0.8" fill="#6a8680" fill-opacity="0.4"/><rect x="489.1" y="606.5" width="0.8" height="0.8" fill="#b8c8e2" fill-opacity="0.4"/><rect x="485.5" y="612.4" width="0.8" height="0.8" fill="#6a8680" fill-opacity="0.4"/><rect x="498.9" y="603.5" width="0.8" height="0.8" fill="#8da2c4" fill-opacity="0.4"/><rect x="486.9" y="606.2" width="0.8" height="0.8" fill="#6a8680" fill-opacity="0.4"/><rect x="484.5" y="610.1" width="0.8" height="0.8" fill="#8da2c4" fill-opacity="0.4"/><rect x="490.6" y="609.6" width="0.8" height="0.8" fill="#8da2c4" fill-opacity="0.4"/><rect x="490.2" y="607.3" width="0.8" height="0.8" fill="#8da2c4" fill-opacity="0.4"/><rect x="486.1" y="615.5" width="0.8" height="0.8" fill="#8da2c4" fill-opacity="0.4"/><rect x="485.1" y="608.9" width="0.8" height="0.8" fill="#8da2c4" fill-opacity="0.4"/><rect x="481.0" y="620.7" width="0.8" height="0.8" fill="#8da2c4" fill-opacity="0.4"/><rect x="485.6" y="609.5" width="0.8" height="0.8" fill="#6a8680" fill-opacity="0.4"/><rect x="478.1" y="617.9" width="0.8" height="0.8" fill="#b8c8e2" fill-opacity="0.4"/><rect x="480.2" y="612.6" width="0.8" height="0.8" fill="#8da2c4" fill-opacity="0.4"/><rect x="492.6" y="610.4" width="0.8" height="0.8" fill="#8da2c4" fill-opacity="0.4"/><rect x="486.4" y="611.4" width="0.8" height="0.8" fill="#b8c8e2" fill-opacity="0.4"/><rect x="485.5" y="610.3" width="0.8" height="0.8" fill="#6a8680" fill-opacity="0.4"/><rect x="490.8" y="607.8" width="0.8" height="0.8" fill="#b8c8e2" fill-opacity="0.4"/><rect x="487.3" y="612.4" width="0.8" height="0.8" fill="#8da2c4" fill-opacity="0.4"/><rect x="485.0" y="609.1" width="0.8" height="0.8" fill="#8da2c4" fill-opacity="0.4"/><rect x="488.7" y="607.0" width="0.8" height="0.8" fill="#8da2c4" fill-opacity="0.4"/><rect x="492.6" y="599.2" width="0.8" height="0.8" fill="#8da2c4" fill-opacity="0.4"/><rect x="476.7" y="620.4" width="0.8" height="0.8" fill="#8da2c4" fill-opacity="0.4"/><rect x="485.6" y="611.4" width="0.8" height="0.8" fill="#8da2c4" fill-opacity="0.4"/><rect x="480.5" y="614.4" width="0.8" height="0.8" fill="#6a8680" fill-opacity="0.4"/><rect x="483.1" y="615.1" width="0.8" height="0.8" fill="#8da2c4" fill-opacity="0.4"/><rect x="490.4" y="608.7" width="0.8" height="0.8" fill="#b8c8e2" fill-opacity="0.4"/><rect x="490.1" y="610.2" width="0.8" height="0.8" fill="#6a8680" fill-opacity="0.4"/><rect x="483.0" y="611.2" width="0.8" height="0.8" fill="#b8c8e2" fill-opacity="0.4"/><rect x="487.8" y="609.6" width="0.8" height="0.8" fill="#6a8680" fill-opacity="0.4"/><rect x="481.7" y="610.8" width="0.8" height="0.8" fill="#b8c8e2" fill-opacity="0.4"/><rect x="483.8" y="619.0" width="0.8" height="0.8" fill="#b8c8e2" fill-opacity="0.4"/><rect x="486.1" y="605.1" width="0.8" height="0.8" fill="#8da2c4" fill-opacity="0.4"/><rect x="485.7" y="607.8" width="0.8" height="0.8" fill="#b8c8e2" fill-opacity="0.4"/><rect x="487.6" y="601.0" width="0.8" height="0.8" fill="#b8c8e2" fill-opacity="0.4"/><rect x="487.5" y="611.0" width="0.8" height="0.8" fill="#6a8680" fill-opacity="0.4"/><rect x="485.8" y="612.8" width="0.8" height="0.8" fill="#b8c8e2" fill-opacity="0.4"/><rect x="481.2" y="619.3" width="0.8" height="0.8" fill="#8da2c4" fill-opacity="0.4"/><rect x="489.3" y="610.0" width="0.8" height="0.8" fill="#8da2c4" fill-opacity="0.4"/><rect x="488.0" y="609.7" width="0.8" height="0.8" fill="#8da2c4" fill-opacity="0.4"/><rect x="483.2" y="613.3" width="0.8" height="0.8" fill="#b8c8e2" fill-opacity="0.4"/><rect x="484.3" y="614.9" width="0.8" height="0.8" fill="#6a8680" fill-opacity="0.4"/><rect x="483.5" y="609.6" width="0.8" height="0.8" fill="#8da2c4" fill-opacity="0.4"/><rect x="479.5" y="618.1" width="0.8" height="0.8" fill="#b8c8e2" fill-opacity="0.4"/><rect x="485.5" y="611.1" width="0.8" height="0.8" fill="#8da2c4" fill-opacity="0.4"/><rect x="490.9" y="604.7" width="0.8" height="0.8" fill="#b8c8e2" fill-opacity="0.4"/><rect x="493.4" y="606.2" width="0.8" height="0.8" fill="#6a8680" fill-opacity="0.4"/><rect x="485.8" y="613.6" width="0.8" height="0.8" fill="#8da2c4" fill-opacity="0.4"/><rect x="486.0" y="614.8" width="0.8" height="0.8" fill="#8da2c4" fill-opacity="0.4"/><rect x="487.6" y="608.8" width="0.8" height="0.8" fill="#8da2c4" fill-opacity="0.4"/><rect x="486.8" y="601.3" width="0.8" height="0.8" fill="#6a8680" fill-opacity="0.4"/><rect x="481.8" y="615.8" width="0.8" height="0.8" fill="#6a8680" fill-opacity="0.4"/><rect x="483.3" y="608.5" width="0.8" height="0.8" fill="#b8c8e2" fill-opacity="0.4"/><rect x="489.6" y="604.7" width="0.8" height="0.8" fill="#8da2c4" fill-opacity="0.4"/><rect x="480.5" y="608.6" width="0.8" height="0.8" fill="#8da2c4" fill-opacity="0.4"/><rect x="482.5" y="619.1" width="0.8" height="0.8" fill="#6a8680" fill-opacity="0.4"/><rect x="493.9" y="603.3" width="0.8" height="0.8" fill="#8da2c4" fill-opacity="0.4"/><rect x="487.0" y="610.2" width="0.8" height="0.8" fill="#8da2c4" fill-opacity="0.4"/><rect x="483.5" y="614.3" width="0.8" height="0.8" fill="#b8c8e2" fill-opacity="0.4"/><rect x="493.4" y="609.8" width="0.8" height="0.8" fill="#6a8680" fill-opacity="0.4"/><rect x="485.6" y="611.8" width="0.8" height="0.8" fill="#8da2c4" fill-opacity="0.4"/><rect x="481.5" y="615.2" width="0.8" height="0.8" fill="#b8c8e2" fill-opacity="0.4"/><rect x="483.8" y="614.9" width="0.8" height="0.8" fill="#8da2c4" fill-opacity="0.4"/><rect x="492.6" y="602.4" width="0.8" height="0.8" fill="#b8c8e2" fill-opacity="0.4"/><rect x="488.5" y="611.7" width="0.8" height="0.8" fill="#b8c8e2" fill-opacity="0.4"/><rect x="482.5" y="612.4" width="0.8" height="0.8" fill="#8da2c4" fill-opacity="0.4"/><rect x="485.7" y="609.9" width="0.8" height="0.8" fill="#b8c8e2" fill-opacity="0.4"/><rect x="482.2" y="610.8" width="0.8" height="0.8" fill="#b8c8e2" fill-opacity="0.4"/><rect x="488.2" y="606.5" width="0.8" height="0.8" fill="#b8c8e2" fill-opacity="0.4"/><rect x="481.6" y="609.9" width="0.8" height="0.8" fill="#8da2c4" fill-opacity="0.4"/><rect x="482.6" y="611.3" width="0.8" height="0.8" fill="#8da2c4" fill-opacity="0.4"/><rect x="487.7" y="607.1" width="0.8" height="0.8" fill="#8da2c4" fill-opacity="0.4"/><rect x="485.8" y="612.6" width="0.8" height="0.8" fill="#8da2c4" fill-opacity="0.4"/><rect x="479.5" y="615.0" width="0.8" height="0.8" fill="#b8c8e2" fill-opacity="0.4"/><rect x="488.8" y="609.7" width="0.8" height="0.8" fill="#6a8680" fill-opacity="0.4"/><rect x="478.5" y="618.7" width="0.8" height="0.8" fill="#8da2c4" fill-opacity="0.4"/><rect x="485.0" y="612.3" width="0.8" height="0.8" fill="#6a8680" fill-opacity="0.4"/><rect x="489.5" y="603.1" width="0.8" height="0.8" fill="#8da2c4" fill-opacity="0.4"/><rect x="479.4" y="614.5" width="0.8" height="0.8" fill="#8da2c4" fill-opacity="0.4"/><rect x="482.1" y="620.7" width="0.8" height="0.8" fill="#8da2c4" fill-opacity="0.4"/><rect x="484.3" y="611.9" width="0.8" height="0.8" fill="#8da2c4" fill-opacity="0.4"/><rect x="489.6" y="607.3" width="0.8" height="0.8" fill="#6a8680" fill-opacity="0.4"/><rect x="480.5" y="615.2" width="0.8" height="0.8" fill="#8da2c4" fill-opacity="0.4"/><rect x="483.3" y="613.2" width="0.8" height="0.8" fill="#8da2c4" fill-opacity="0.4"/><rect x="485.3" y="614.0" width="0.8" height="0.8" fill="#b8c8e2" fill-opacity="0.4"/><rect x="479.2" y="616.7" width="0.8" height="0.8" fill="#8da2c4" fill-opacity="0.4"/><rect x="484.7" y="613.4" width="0.8" height="0.8" fill="#8da2c4" fill-opacity="0.4"/><rect x="491.8" y="603.5" width="0.8" height="0.8" fill="#8da2c4" fill-opacity="0.4"/><rect x="476.4" y="616.1" width="0.8" height="0.8" fill="#6a8680" fill-opacity="0.4"/><rect x="483.1" y="613.7" width="0.8" height="0.8" fill="#8da2c4" fill-opacity="0.4"/><rect x="494.2" y="603.9" width="0.8" height="0.8" fill="#b8c8e2" fill-opacity="0.4"/><rect x="480.8" y="611.1" width="0.8" height="0.8" fill="#8da2c4" fill-opacity="0.4"/><rect x="485.1" y="611.5" width="0.8" height="0.8" fill="#8da2c4" fill-opacity="0.4"/><rect x="485.2" y="611.3" width="0.8" height="0.8" fill="#8da2c4" fill-opacity="0.4"/><rect x="483.6" y="619.5" width="0.8" height="0.8" fill="#8da2c4" fill-opacity="0.4"/><rect x="490.1" y="611.2" width="0.8" height="0.8" fill="#8da2c4" fill-opacity="0.4"/><rect x="494.5" y="599.4" width="0.8" height="0.8" fill="#6a8680" fill-opacity="0.4"/><rect x="483.0" y="612.7" width="0.8" height="0.8" fill="#8da2c4" fill-opacity="0.4"/><rect x="482.8" y="610.6" width="0.8" height="0.8" fill="#b8c8e2" fill-opacity="0.4"/><rect x="489.4" y="611.3" width="0.8" height="0.8" fill="#6a8680" fill-opacity="0.4"/><rect x="487.3" y="616.0" width="0.8" height="0.8" fill="#8da2c4" fill-opacity="0.4"/><rect x="484.6" y="611.3" width="0.8" height="0.8" fill="#8da2c4" fill-opacity="0.4"/><rect x="488.7" y="608.5" width="0.8" height="0.8" fill="#b8c8e2" fill-opacity="0.4"/><rect x="485.5" y="604.9" width="0.8" height="0.8" fill="#6a8680" fill-opacity="0.4"/>
<text x="431.3" y="675.2" font-size="9.4" text-anchor="middle" fill="#2b2b2b" textLength="19.2" lengthAdjust="spacingAndGlyphs">FSC-A</text>
<text transform="translate(318.4,611.3) rotate(-90)" font-size="8.2" text-anchor="middle" fill="#2b2b2b" textLength="21.2" lengthAdjust="spacingAndGlyphs">SSC-A</text>
</svg></body></html>
